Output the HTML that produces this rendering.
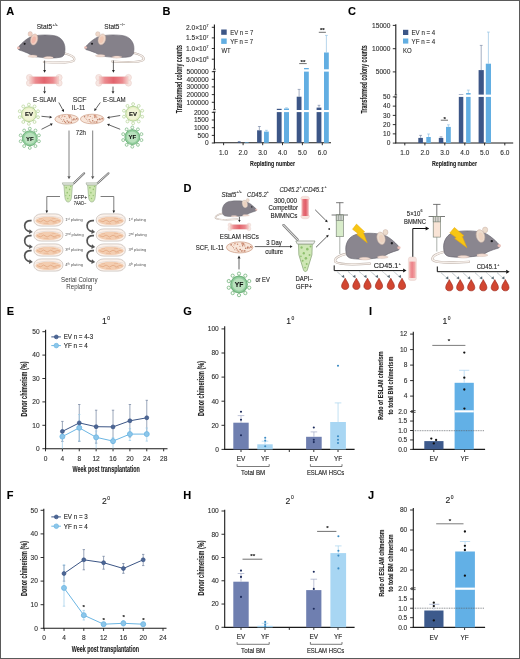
<!DOCTYPE html>
<html><head><meta charset="utf-8"><title>Figure</title>
<style>html,body{margin:0;padding:0;background:#fff;}svg{display:block;will-change:transform;}svg text{stroke:rgba(20,20,20,0.45);stroke-width:0.22px;}svg text.lt{stroke:none;}</style>
</head><body>
<svg width="520" height="659" viewBox="0 0 520 659" font-family="Liberation Sans" style="font-family:'Liberation Sans',sans-serif">
<rect x="0.00" y="0.00" width="520.00" height="659.00" fill="#fff" />

<defs>
 <linearGradient id="gShaft" x1="0" y1="0" x2="1" y2="0">
  <stop offset="0" stop-color="#f6d0cc"/><stop offset="0.2" stop-color="#eb8a8f"/>
  <stop offset="0.5" stop-color="#e2646d"/><stop offset="0.8" stop-color="#eb8a8f"/>
  <stop offset="1" stop-color="#f6d0cc"/>
 </linearGradient>
 <linearGradient id="gShaftV" x1="0" y1="0" x2="0" y2="1">
  <stop offset="0" stop-color="#f6d0cc"/><stop offset="0.2" stop-color="#eb8a8f"/>
  <stop offset="0.5" stop-color="#e2646d"/><stop offset="0.8" stop-color="#eb8a8f"/>
  <stop offset="1" stop-color="#f6d0cc"/>
 </linearGradient>
 <linearGradient id="gShaftH2" x1="0" y1="0" x2="1" y2="0">
  <stop offset="0" stop-color="#f3c4c2"/><stop offset="0.3" stop-color="#e56f78"/>
  <stop offset="0.6" stop-color="#e25e69"/><stop offset="1" stop-color="#f1bcbc"/>
 </linearGradient>
 <linearGradient id="gShaftH3" x1="0" y1="0" x2="1" y2="0">
  <stop offset="0" stop-color="#f4b4b2"/><stop offset="0.45" stop-color="#ec8087"/>
  <stop offset="1" stop-color="#f3b0ae"/>
 </linearGradient>
 <g id="boneH">
  <circle cx="3.2" cy="3.2" r="3.1" fill="#f7e6e2" stroke="#e6cbc4" stroke-width="0.5"/>
  <circle cx="3.2" cy="8.8" r="3.1" fill="#f7e6e2" stroke="#e6cbc4" stroke-width="0.5"/>
  <circle cx="32.8" cy="3.2" r="3.1" fill="#f7e6e2" stroke="#e6cbc4" stroke-width="0.5"/>
  <circle cx="32.8" cy="8.8" r="3.1" fill="#f7e6e2" stroke="#e6cbc4" stroke-width="0.5"/>
  <rect x="3.5" y="2.4" width="29" height="7.2" fill="url(#gShaft)"/>
  <rect x="3.5" y="2.4" width="29" height="7.2" fill="none" stroke="#e9c3bd" stroke-width="0.4"/>
 </g>
 <g id="mouse">
  <path d="M4 42 C-8 45 -20 50 -16 57 C-10 62 15 62 46 60" fill="none" stroke="#b9aca4" stroke-width="4.2" stroke-linecap="round"/>
  <path d="M4 42 C-8 45 -20 50 -16 57 C-10 62 15 62 46 60" fill="none" stroke="#f6efea" stroke-width="2.6" stroke-linecap="round"/>
  <path d="M3 40 C0 24 8 8 26 6 C44 3.5 62 5 73 9 C80 11 92 22 97 28 C100 31 100 34 97 35.5 C92 37 86 39 79 42 C73 46 66 49 58 50 C42 52 22 53 10 50 C5 48 3 44 3 40 Z" fill="currentColor" stroke="#5e5c66" stroke-width="1.1"/>
  <ellipse cx="74" cy="3" rx="4.5" ry="5" fill="var(--ear)" stroke="#c7aea2" stroke-width="0.8"/>
  <ellipse cx="66" cy="14" rx="7.2" ry="11.5" transform="rotate(-14 66 14)" fill="var(--ear)" stroke="#c7aea2" stroke-width="0.9"/>
  <ellipse cx="66.5" cy="15" rx="4.2" ry="7.2" transform="rotate(-14 66 14)" fill="var(--ear2)"/>
  <circle cx="85.5" cy="23" r="2.1" fill="#1e1e22"/>
  <ellipse cx="98.3" cy="31.2" rx="3" ry="2.6" fill="#ecc0b8"/>
  <path d="M60 47 C65 45 74 45 79 48 C77 51 66 51 60 50 Z" fill="#f2dcd2" stroke="#c9aea3" stroke-width="0.6"/>
  <path d="M27 50 C32 48 42 48 47 51 C44 54 32 54 27 52 Z" fill="#f2dcd2" stroke="#c9aea3" stroke-width="0.6"/>
 </g>
 <g id="virus">
  <circle cx="0" cy="0" r="7.4" fill="var(--bd)" stroke="var(--sp)" stroke-width="1.0"/>
  <g stroke="var(--sp)" stroke-width="0.7" fill="#fdfdf8">
   <line x1="0.00" y1="-7.20" x2="0.00" y2="-8.40"/><circle cx="0.00" cy="-9.60" r="1.45"/>
   <line x1="4.23" y1="-5.82" x2="4.94" y2="-6.80"/><circle cx="5.64" cy="-7.77" r="1.45"/>
   <line x1="6.85" y1="-2.22" x2="7.99" y2="-2.60"/><circle cx="9.13" cy="-2.97" r="1.45"/>
   <line x1="6.85" y1="2.22" x2="7.99" y2="2.60"/><circle cx="9.13" cy="2.97" r="1.45"/>
   <line x1="4.23" y1="5.82" x2="4.94" y2="6.80"/><circle cx="5.64" cy="7.77" r="1.45"/>
   <line x1="0.00" y1="7.20" x2="0.00" y2="8.40"/><circle cx="0.00" cy="9.60" r="1.45"/>
   <line x1="-4.23" y1="5.82" x2="-4.94" y2="6.80"/><circle cx="-5.64" cy="7.77" r="1.45"/>
   <line x1="-6.85" y1="2.22" x2="-7.99" y2="2.60"/><circle cx="-9.13" cy="2.97" r="1.45"/>
   <line x1="-6.85" y1="-2.22" x2="-7.99" y2="-2.60"/><circle cx="-9.13" cy="-2.97" r="1.45"/>
   <line x1="-4.23" y1="-5.82" x2="-4.94" y2="-6.80"/><circle cx="-5.64" cy="-7.77" r="1.45"/>
  </g>
  <circle cx="0" cy="0" r="5.6" fill="var(--bi)"/>
 </g>
 <g id="dishA">
  <ellipse cx="12" cy="5" rx="11.8" ry="4.8" fill="#f8e6da" stroke="#cf9f88" stroke-width="0.7"/>
  <g>
   <circle cx="6.5" cy="5.3" r="0.46" fill="#b97860"/>
   <circle cx="9.3" cy="5.8" r="0.54" fill="#d8a088"/>
   <circle cx="14.6" cy="1.7" r="0.72" fill="#e2b09a"/>
   <circle cx="6.9" cy="3.0" r="0.56" fill="#e2b09a"/>
   <circle cx="22.4" cy="4.8" r="0.64" fill="#c98a70"/>
   <circle cx="19.1" cy="4.8" r="0.64" fill="#b97860"/>
   <circle cx="14.9" cy="2.3" r="0.58" fill="#d8a088"/>
   <circle cx="14.8" cy="7.8" r="0.73" fill="#e2b09a"/>
   <circle cx="12.5" cy="6.8" r="0.74" fill="#b97860"/>
   <circle cx="15.6" cy="1.7" r="0.61" fill="#c98a70"/>
   <circle cx="17.4" cy="5.7" r="0.69" fill="#b97860"/>
   <circle cx="7.8" cy="1.4" r="0.46" fill="#d8a088"/>
   <circle cx="19.7" cy="4.8" r="0.47" fill="#b97860"/>
   <circle cx="16.6" cy="7.9" r="0.59" fill="#b97860"/>
   <circle cx="16.5" cy="8.2" r="0.63" fill="#b97860"/>
   <circle cx="9.8" cy="7.3" r="0.67" fill="#c98a70"/>
   <circle cx="10.8" cy="8.3" r="0.63" fill="#c98a70"/>
   <circle cx="4.4" cy="2.8" r="0.74" fill="#b97860"/>
   <circle cx="21.8" cy="4.5" r="0.64" fill="#b97860"/>
   <circle cx="14.7" cy="3.5" r="0.63" fill="#b97860"/>
   <circle cx="12.2" cy="4.1" r="0.50" fill="#d8a088"/>
   <circle cx="8.9" cy="5.6" r="0.54" fill="#b97860"/>
   <circle cx="13.8" cy="8.1" r="0.70" fill="#b97860"/>
   <circle cx="15.8" cy="8.3" r="0.54" fill="#e2b09a"/>
   <circle cx="15.6" cy="2.4" r="0.48" fill="#c98a70"/>
   <circle cx="20.5" cy="5.5" r="0.74" fill="#d8a088"/>
   <circle cx="16.5" cy="2.8" r="0.54" fill="#d8a088"/>
   <circle cx="19.0" cy="5.6" r="0.65" fill="#b97860"/>
   <circle cx="7.5" cy="1.7" r="0.52" fill="#d8a088"/>
   <circle cx="10.1" cy="2.3" r="0.65" fill="#c98a70"/>
   <circle cx="7.7" cy="7.0" r="0.48" fill="#b97860"/>
   <circle cx="14.4" cy="1.5" r="0.73" fill="#d8a088"/>
   <circle cx="16.6" cy="3.7" r="0.58" fill="#d8a088"/>
   <circle cx="12.1" cy="8.8" r="0.47" fill="#d8a088"/>
   <circle cx="8.0" cy="1.8" r="0.72" fill="#e2b09a"/>
   <circle cx="14.1" cy="1.4" r="0.53" fill="#c98a70"/>
   <circle cx="5.6" cy="4.3" r="0.46" fill="#d8a088"/>
   <circle cx="14.3" cy="2.4" r="0.54" fill="#d8a088"/>
  </g>
 </g>
 <g id="dishC">
  <rect x="0.3" y="0.3" width="29" height="12.2" rx="7.5" ry="5.6" fill="#fbf1ea" stroke="#b9aea8" stroke-width="0.6"/>
  <ellipse cx="14.8" cy="7.2" rx="12.9" ry="4.1" fill="#f3cdb0"/>
  <path d="M3.5 7.0 L7 8.2 L10 6.4 L13.5 8.4 L17 6.6 L20.5 8.2 L24 6.8 L26.5 7.6" fill="none" stroke="#dd9a70" stroke-width="0.6"/>
  <path d="M5.5 5.4 L9 5.0 M18 5.2 L22 4.8 M10 9.6 L15 9.9 M19 9.4 L23 9.0" fill="none" stroke="#e3a985" stroke-width="0.5"/>
  <path d="M2 4.6 Q14.8 0.6 27.6 4.6" fill="none" stroke="#d9cdc7" stroke-width="0.5"/>
 </g>
 <g id="drop">
  <path d="M0 0 C1 2.5 3.7 5.3 3.7 8.1 C3.7 10.4 2.1 11.6 0 11.6 C-2.1 11.6 -3.7 10.4 -3.7 8.1 C-3.7 5.3 -1 2.5 0 0 Z" fill="#d24631" stroke="#9b2b20" stroke-width="0.65"/>
 </g>
 <g id="tube">
  <path d="M1.5 2 L10.5 2 L10 6 L7 17 C6.5 18.6 5.5 18.6 5 17 L2 6 Z" fill="#cfe6b4" stroke="#8aa57a" stroke-width="0.5"/>
  <rect x="0" y="0.5" width="12" height="2" fill="#e6ebe2" stroke="#8f9a8a" stroke-width="0.5"/>
  <g fill="#8fc06a"><circle cx="4" cy="5" r="0.8"/><circle cx="7.5" cy="7" r="0.8"/><circle cx="5" cy="10" r="0.8"/>
   <circle cx="7" cy="12.5" r="0.7"/><circle cx="8.5" cy="4" r="0.7"/><circle cx="5.8" cy="14.5" r="0.6"/></g>
 </g>
 <g id="tubeA">
  <path d="M1.6 2.2 L10.4 2.2 L9.4 13.5 C8.9 19.6 3.1 19.6 2.6 13.5 Z" fill="#cde6b0" stroke="#8fa882" stroke-width="0.55"/>
  <path d="M0 0.6 L12 0.6 L11.2 2.6 L0.8 2.6 Z" fill="#e4e9e0" stroke="#8f9a8a" stroke-width="0.5"/>
  <g fill="#96c474"><circle cx="4" cy="5" r="0.8"/><circle cx="7.5" cy="6.5" r="0.8"/><circle cx="5" cy="9.5" r="0.8"/>
   <circle cx="7.4" cy="12" r="0.7"/><circle cx="8.6" cy="4" r="0.7"/><circle cx="5.6" cy="14.8" r="0.7"/><circle cx="3.6" cy="12.2" r="0.6"/></g>
 </g>
 <g id="tubeD">
  <path d="M1.7 2.1 L10.3 2.1 L10.1 8.5 L7.2 17.4 C6.7 18.7 5.3 18.7 4.8 17.4 L1.9 8.5 Z" fill="#cfe7b6" stroke="#8aa57a" stroke-width="0.45"/>
  <path d="M0 0.4 L12 0.4 L11.1 2.2 L0.9 2.2 Z" fill="#eef0ec" stroke="#8f9a8a" stroke-width="0.45"/>
  <g fill="#8fc06e"><circle cx="3.6" cy="4.2" r="0.7"/><circle cx="7.2" cy="5.2" r="0.8"/><circle cx="5" cy="7.6" r="0.7"/>
   <circle cx="8.6" cy="8.6" r="0.6"/><circle cx="6.3" cy="10.6" r="0.8"/><circle cx="4.3" cy="12" r="0.6"/><circle cx="6.8" cy="14" r="0.6"/>
   <circle cx="9.2" cy="3.6" r="0.6"/><circle cx="3.2" cy="9.4" r="0.5"/><circle cx="5.8" cy="16" r="0.5"/></g>
 </g>
 <g id="bolt">
  <path d="M4 0 L0 5.2 L5.5 9.5 L4.2 10.4 L14.8 19 L10.8 8.6 L12.2 7.8 L8.4 4.2 Z" fill="#f7c614" stroke="#e9a90a" stroke-width="0.5"/>
 </g>
</defs>

<text x="6.30" y="14.60" font-size="11" font-weight="bold" fill="#000">A</text>
<text x="36.7" y="29.2" font-size="7.0" fill="#2a2a2a" textLength="15.5" lengthAdjust="spacingAndGlyphs">Stat5</text>
<text x="52.6" y="25.6" font-size="3.6" fill="#333">+/+</text>
<text x="104.3" y="29.2" font-size="7.0" fill="#2a2a2a" textLength="15.2" lengthAdjust="spacingAndGlyphs">Stat5</text>
<text x="119.8" y="25.6" font-size="3.6" fill="#333">−/−</text>
<use href="#mouse" transform="translate(66.2,32.6) scale(-0.486,0.49)" style="color:#7a7780;--ear:#f1cfc2;--ear2:#f2b8aa"/>
<use href="#mouse" transform="translate(135.2,32.6) scale(-0.505,0.48)" style="color:#85818a;--ear:#efd7c8;--ear2:#f0c8b4"/>
<line x1="44.60" y1="60.50" x2="44.60" y2="70.10" stroke="#222" stroke-width="0.7" />
<path d="M44.60 72.70 L43.20 70.10 L46.00 70.10 Z" fill="#222"/>
<line x1="113.40" y1="60.50" x2="113.40" y2="70.10" stroke="#222" stroke-width="0.7" />
<path d="M113.40 72.70 L112.00 70.10 L114.80 70.10 Z" fill="#222"/>
<use href="#boneH" transform="translate(26.3,74.3)"/>
<use href="#boneH" transform="translate(95.6,74.3)"/>
<line x1="44.60" y1="86.60" x2="44.60" y2="91.20" stroke="#222" stroke-width="0.7" />
<path d="M44.60 93.80 L43.20 91.20 L46.00 91.20 Z" fill="#222"/>
<line x1="113.00" y1="86.60" x2="113.00" y2="91.20" stroke="#222" stroke-width="0.7" />
<path d="M113.00 93.80 L111.60 91.20 L114.40 91.20 Z" fill="#222"/>
<text x="44.60" y="101.92" font-size="7.0" fill="#333" text-anchor="middle" textLength="23.3" lengthAdjust="spacingAndGlyphs" >E-SLAM</text>
<text x="114.30" y="101.92" font-size="7.0" fill="#333" text-anchor="middle" textLength="22.8" lengthAdjust="spacingAndGlyphs" >E-SLAM</text>
<text x="79.60" y="102.02" font-size="7.0" fill="#333" text-anchor="middle" textLength="13.8" lengthAdjust="spacingAndGlyphs" >SCF</text>
<text x="78.50" y="109.72" font-size="7.0" fill="#333" text-anchor="middle" textLength="13.5" lengthAdjust="spacingAndGlyphs" >IL-11</text>
<line x1="58.80" y1="102.50" x2="62.75" y2="109.72" stroke="#222" stroke-width="0.7" />
<path d="M64.00 112.00 L61.52 110.39 L63.98 109.05 Z" fill="#222"/>
<line x1="100.30" y1="102.50" x2="95.70" y2="108.98" stroke="#222" stroke-width="0.7" />
<path d="M94.20 111.10 L94.56 108.17 L96.85 109.79 Z" fill="#222"/>
<use href="#dishA" transform="translate(54.7,114.2)"/>
<use href="#dishA" transform="translate(80.2,114.0)"/>
<use href="#virus" transform="translate(28.9,114.2) scale(1.0)" style="--sp:#b5d49a;--bd:#e8f0c6;--bi:#f1f5d6"/>
<text x="28.90" y="116.40" font-size="6.00" font-weight="bold" fill="#111" text-anchor="middle">EV</text>
<use href="#virus" transform="translate(29.8,138.3) scale(1.0)" style="--sp:#72b47e;--bd:#93cf9e;--bi:#b9e1bd"/>
<text x="29.80" y="140.50" font-size="6.00" font-weight="bold" fill="#111" text-anchor="middle">YF</text>
<use href="#virus" transform="translate(133.1,113.7) scale(1.0)" style="--sp:#b5d49a;--bd:#e8f0c6;--bi:#f1f5d6"/>
<text x="133.10" y="115.90" font-size="6.00" font-weight="bold" fill="#111" text-anchor="middle">EV</text>
<use href="#virus" transform="translate(132.3,137.1) scale(1.0)" style="--sp:#72b47e;--bd:#93cf9e;--bi:#b9e1bd"/>
<text x="132.30" y="139.30" font-size="6.00" font-weight="bold" fill="#111" text-anchor="middle">YF</text>
<line x1="41.50" y1="116.30" x2="49.61" y2="117.06" stroke="#222" stroke-width="0.7" />
<path d="M52.20 117.30 L49.48 118.45 L49.74 115.66 Z" fill="#222"/>
<line x1="41.50" y1="129.30" x2="50.48" y2="124.77" stroke="#222" stroke-width="0.7" />
<path d="M52.80 123.60 L51.11 126.02 L49.85 123.52 Z" fill="#222"/>
<line x1="120.20" y1="115.50" x2="109.56" y2="117.27" stroke="#222" stroke-width="0.7" />
<path d="M107.00 117.70 L109.33 115.89 L109.79 118.65 Z" fill="#222"/>
<line x1="120.20" y1="129.30" x2="109.42" y2="125.05" stroke="#222" stroke-width="0.7" />
<path d="M107.00 124.10 L109.93 123.75 L108.91 126.36 Z" fill="#222"/>
<text x="80.90" y="135.28" font-size="6.6" fill="#333" text-anchor="middle" textLength="10.3" lengthAdjust="spacingAndGlyphs" >72h</text>
<line x1="69.00" y1="130.50" x2="69.00" y2="176.20" stroke="#555" stroke-width="0.75" />
<path d="M69.00 179.20 L67.40 176.20 L70.60 176.20 Z" fill="#555"/>
<line x1="92.70" y1="130.50" x2="92.70" y2="176.20" stroke="#555" stroke-width="0.75" />
<path d="M92.70 179.20 L91.10 176.20 L94.30 176.20 Z" fill="#555"/>
<line x1="73.80" y1="183.2" x2="84.20" y2="173.2" stroke="#6c6c6c" stroke-width="2.0" stroke-linecap="round"/>
<line x1="73.80" y1="183.2" x2="84.20" y2="173.2" stroke="#d9d9d9" stroke-width="1.0" stroke-linecap="round"/>
<use href="#tubeA" transform="translate(62.3,182.2) scale(0.98,1.1)"/>
<line x1="97.50" y1="183.2" x2="108.50" y2="173.2" stroke="#6c6c6c" stroke-width="2.0" stroke-linecap="round"/>
<line x1="97.50" y1="183.2" x2="108.50" y2="173.2" stroke="#d9d9d9" stroke-width="1.0" stroke-linecap="round"/>
<use href="#tubeA" transform="translate(86.0,182.2) scale(0.98,1.1)"/>
<text x="80.50" y="198.72" font-size="5.6" fill="#333" text-anchor="middle" textLength="13.4" lengthAdjust="spacingAndGlyphs" >GFP+</text>
<text x="80.00" y="205.22" font-size="5.6" fill="#333" text-anchor="middle" textLength="12.5" lengthAdjust="spacingAndGlyphs" >7AAD−</text>
<polyline points="60,196.5 46.8,196.5 46.8,211.0" fill="none" stroke="#444" stroke-width="0.7"/>
<path d="M46.8 213.3 L45.5 210.5 L48.1 210.5 Z" fill="#222"/>
<polyline points="100.6,196.5 113.8,196.5 113.8,211.0" fill="none" stroke="#444" stroke-width="0.7"/>
<path d="M113.8 213.3 L112.5 210.5 L115.1 210.5 Z" fill="#222"/>
<use href="#dishC" transform="translate(33.6,213.60)"/>
<use href="#dishC" transform="translate(96.0,213.60)"/>
<text class="lt" x="65.3" y="221.00" font-size="4.1" fill="#555">1<tspan font-size="2.6" dy="-1.5">st</tspan><tspan dy="1.5"> plating</tspan></text>
<text class="lt" x="128.4" y="221.00" font-size="4.1" fill="#555">1<tspan font-size="2.6" dy="-1.5">st</tspan><tspan dy="1.5"> plating</tspan></text>
<path d="M31.60 220.60 C22.60 219.60 22.60 230.60 30.40 231.80" fill="none" stroke="#555" stroke-width="1.75"/>
<path d="M32.80 232.00 L29.60 229.20 L29.00 234.00 Z" fill="#555"/>
<path d="M94.00 220.60 C85.00 219.60 85.00 230.60 92.80 231.80" fill="none" stroke="#555" stroke-width="1.75"/>
<path d="M95.20 232.00 L92.00 229.20 L91.40 234.00 Z" fill="#555"/>
<use href="#dishC" transform="translate(33.6,228.60)"/>
<use href="#dishC" transform="translate(96.0,228.60)"/>
<text class="lt" x="65.3" y="236.00" font-size="4.1" fill="#555">2<tspan font-size="2.6" dy="-1.5">nd</tspan><tspan dy="1.5"> plating</tspan></text>
<text class="lt" x="128.4" y="236.00" font-size="4.1" fill="#555">2<tspan font-size="2.6" dy="-1.5">nd</tspan><tspan dy="1.5"> plating</tspan></text>
<path d="M31.60 235.60 C22.60 234.60 22.60 245.60 30.40 246.80" fill="none" stroke="#555" stroke-width="1.75"/>
<path d="M32.80 247.00 L29.60 244.20 L29.00 249.00 Z" fill="#555"/>
<path d="M94.00 235.60 C85.00 234.60 85.00 245.60 92.80 246.80" fill="none" stroke="#555" stroke-width="1.75"/>
<path d="M95.20 247.00 L92.00 244.20 L91.40 249.00 Z" fill="#555"/>
<use href="#dishC" transform="translate(33.6,243.60)"/>
<use href="#dishC" transform="translate(96.0,243.60)"/>
<text class="lt" x="65.3" y="251.00" font-size="4.1" fill="#555">3<tspan font-size="2.6" dy="-1.5">rd</tspan><tspan dy="1.5"> plating</tspan></text>
<text class="lt" x="128.4" y="251.00" font-size="4.1" fill="#555">3<tspan font-size="2.6" dy="-1.5">rd</tspan><tspan dy="1.5"> plating</tspan></text>
<path d="M31.60 250.60 C22.60 249.60 22.60 260.60 30.40 261.80" fill="none" stroke="#555" stroke-width="1.75"/>
<path d="M32.80 262.00 L29.60 259.20 L29.00 264.00 Z" fill="#555"/>
<path d="M94.00 250.60 C85.00 249.60 85.00 260.60 92.80 261.80" fill="none" stroke="#555" stroke-width="1.75"/>
<path d="M95.20 262.00 L92.00 259.20 L91.40 264.00 Z" fill="#555"/>
<use href="#dishC" transform="translate(33.6,258.60)"/>
<use href="#dishC" transform="translate(96.0,258.60)"/>
<text class="lt" x="65.3" y="266.00" font-size="4.1" fill="#555">4<tspan font-size="2.6" dy="-1.5">th</tspan><tspan dy="1.5"> plating</tspan></text>
<text class="lt" x="128.4" y="266.00" font-size="4.1" fill="#555">4<tspan font-size="2.6" dy="-1.5">th</tspan><tspan dy="1.5"> plating</tspan></text>
<text x="79.30" y="281.78" font-size="6.9" fill="#3a3a3a" text-anchor="middle" textLength="36.5" lengthAdjust="spacingAndGlyphs" class="lt">Serial Colony</text>
<text x="79.30" y="288.88" font-size="6.9" fill="#3a3a3a" text-anchor="middle" textLength="26.0" lengthAdjust="spacingAndGlyphs" class="lt">Replating</text>
<text x="183.40" y="191.70" font-size="11" font-weight="bold" fill="#000">D</text>
<text x="221.6" y="196.8" font-size="6.4" font-style="italic" fill="#2a2a2a" textLength="14.6" lengthAdjust="spacingAndGlyphs">Stat5</text>
<text x="236.6" y="193.4" font-size="3.6" font-style="italic" fill="#333">+/+</text>
<text x="247.0" y="196.8" font-size="6.4" font-style="italic" fill="#2a2a2a" textLength="19.6" lengthAdjust="spacingAndGlyphs">CD45.2</text>
<text x="266.8" y="193.4" font-size="3.6" font-style="italic" fill="#333">+</text>
<use href="#mouse" transform="translate(221.4,199.2) scale(0.355,0.335)" style="color:#837f88;--ear:#ecdccd;--ear2:#ecd2c0"/>
<line x1="239.40" y1="216.80" x2="239.40" y2="220.10" stroke="#222" stroke-width="0.7" />
<path d="M239.40 222.30 L238.20 220.10 L240.60 220.10 Z" fill="#222"/>
<use href="#boneH" transform="translate(227.9,223.0) scale(0.64,0.65)"/>
<text x="239.30" y="239.48" font-size="6.6" fill="#222" text-anchor="middle" textLength="38.9" lengthAdjust="spacingAndGlyphs" >ESLAM HSCs</text>
<text x="224.00" y="250.18" font-size="6.6" fill="#222" text-anchor="end" textLength="28.2" lengthAdjust="spacingAndGlyphs" >SCF, IL-11</text>
<use href="#dishA" transform="translate(226.2,241.6) scale(1.12,1.16)"/>
<line x1="239.00" y1="269.40" x2="239.00" y2="258.40" stroke="#222" stroke-width="0.7" />
<path d="M239.00 255.60 L240.50 258.40 L237.50 258.40 Z" fill="#222"/>
<use href="#virus" transform="translate(239.0,284.4) scale(1.12)" style="--sp:#72b47e;--bd:#93cf9e;--bi:#b9e1bd"/>
<text x="239.00" y="286.86" font-size="6.72" font-weight="bold" fill="#111" text-anchor="middle">YF</text>
<text x="255.40" y="282.00" font-size="6.4" fill="#222" textLength="14.4" lengthAdjust="spacingAndGlyphs" >or EV</text>
<text x="274.00" y="244.78" font-size="6.6" fill="#222" text-anchor="middle" textLength="15.4" lengthAdjust="spacingAndGlyphs" >3 Day</text>
<line x1="254.80" y1="246.60" x2="290.00" y2="246.60" stroke="#222" stroke-width="0.7" />
<path d="M292.60 246.60 L290.00 248.00 L290.00 245.20 Z" fill="#222"/>
<text x="274.20" y="253.75" font-size="6.8" fill="#222" text-anchor="middle" textLength="18.0" lengthAdjust="spacingAndGlyphs" >culture</text>
<text x="279.4" y="191.8" font-size="6.4" font-style="italic" fill="#2a2a2a" textLength="19.8" lengthAdjust="spacingAndGlyphs">CD45.2</text>
<text x="299.4" y="188.4" font-size="3.6" font-style="italic" fill="#333">+</text>
<text x="302.2" y="191.8" font-size="6.4" font-style="italic" fill="#2a2a2a" textLength="22.0" lengthAdjust="spacingAndGlyphs">/CD45.1</text>
<text x="324.6" y="188.4" font-size="3.6" font-style="italic" fill="#333">+</text>
<text x="285.50" y="202.65" font-size="6.8" fill="#222" text-anchor="middle" textLength="23.0" lengthAdjust="spacingAndGlyphs" >300,000</text>
<text x="283.20" y="210.45" font-size="6.8" fill="#222" text-anchor="middle" textLength="29.5" lengthAdjust="spacingAndGlyphs" >Competitor</text>
<text x="284.00" y="218.25" font-size="6.8" fill="#222" text-anchor="middle" textLength="27.0" lengthAdjust="spacingAndGlyphs" >BMMNCs</text>
<ellipse cx="305.1" cy="198.6" rx="4.3" ry="2.4" fill="#f7e2dd" stroke="#e6c6bf" stroke-width="0.4"/>
<ellipse cx="305.1" cy="216.4" rx="4.3" ry="2.4" fill="#f7e2dd" stroke="#e6c6bf" stroke-width="0.4"/>
<rect x="301.4" y="199.0" width="7.4" height="17.0" fill="url(#gShaftH2)"/>
<line x1="315.20" y1="209.80" x2="325.86" y2="220.46" stroke="#222" stroke-width="0.7" />
<path d="M327.70 222.30 L324.87 221.45 L326.85 219.47 Z" fill="#222"/>
<circle cx="329.20" cy="229.00" r="0.90" fill="#333" />
<line x1="316.00" y1="247.30" x2="326.85" y2="236.62" stroke="#222" stroke-width="0.7" />
<path d="M328.70 234.80 L327.83 237.62 L325.86 235.63 Z" fill="#222"/>
<line x1="283.5" y1="225.2" x2="297.5" y2="239.6" stroke="#6c6c6c" stroke-width="2.4" stroke-linecap="round"/>
<line x1="283.5" y1="225.2" x2="297.5" y2="239.6" stroke="#dcdcdc" stroke-width="1.2" stroke-linecap="round"/>
<use href="#tubeD" transform="translate(295.8,240.3) scale(1.6,1.7)"/>
<text x="304.10" y="281.45" font-size="6.8" fill="#222" text-anchor="middle" textLength="17.3" lengthAdjust="spacingAndGlyphs" >DAPI–</text>
<text x="304.00" y="288.65" font-size="6.8" fill="#222" text-anchor="middle" textLength="16.4" lengthAdjust="spacingAndGlyphs" >GFP+</text>
<line x1="336.10" y1="202.70" x2="343.50" y2="202.70" stroke="#555" stroke-width="0.8" />
<line x1="339.80" y1="202.70" x2="339.80" y2="215.00" stroke="#555" stroke-width="0.8" />
<line x1="331.60" y1="215.00" x2="348.00" y2="215.00" stroke="#555" stroke-width="0.8" />
<rect x="336.20" y="215.00" width="7.20" height="21.70" fill="#d8ecca" stroke="#6f7a6c" stroke-width="0.6"/>
<rect x="336.20" y="215.00" width="7.20" height="5.40" fill="#d0d4cf" stroke="#6f7a6c" stroke-width="0.6"/>
<line x1="338.60" y1="215.00" x2="338.60" y2="220.40" stroke="#6f7a6c" stroke-width="0.5" />
<line x1="341.00" y1="215.00" x2="341.00" y2="220.40" stroke="#6f7a6c" stroke-width="0.5" />
<line x1="339.80" y1="236.70" x2="339.80" y2="254.00" stroke="#8a8f8a" stroke-width="0.7" />
<use href="#mouse" transform="translate(344.4,230.6) scale(0.555,0.55)" style="color:#8a868f;--ear:#ecdccd;--ear2:#ecd2c0"/>
<use href="#bolt" transform="translate(352.5,224.1) scale(1.0,0.99)"/>
<line x1="334.20" y1="265.40" x2="334.20" y2="270.60" stroke="#111" stroke-width="1.0" />
<line x1="334.20" y1="270.60" x2="403.10" y2="270.60" stroke="#111" stroke-width="1.0" />
<path d="M406.50 270.60 L403.10 272.60 L403.10 268.60 Z" fill="#111"/>
<line x1="336.90" y1="271.60" x2="343.00" y2="276.80" stroke="#5d6d78" stroke-width="0.6" stroke-dasharray="0.9,0.7"/>
<path d="M344.40 278.00 L341.40 276.80 L344.00 274.80 Z" fill="#5a6a74"/>
<use href="#drop" transform="translate(345.20,278.20) scale(0.98,0.97)"/>
<line x1="348.10" y1="271.60" x2="354.20" y2="276.80" stroke="#5d6d78" stroke-width="0.6" stroke-dasharray="0.9,0.7"/>
<path d="M355.60 278.00 L352.60 276.80 L355.20 274.80 Z" fill="#5a6a74"/>
<use href="#drop" transform="translate(356.40,278.20) scale(0.98,0.97)"/>
<line x1="359.20" y1="271.60" x2="365.30" y2="276.80" stroke="#5d6d78" stroke-width="0.6" stroke-dasharray="0.9,0.7"/>
<path d="M366.70 278.00 L363.70 276.80 L366.30 274.80 Z" fill="#5a6a74"/>
<use href="#drop" transform="translate(367.50,278.20) scale(0.98,0.97)"/>
<line x1="370.70" y1="271.60" x2="376.80" y2="276.80" stroke="#5d6d78" stroke-width="0.6" stroke-dasharray="0.9,0.7"/>
<path d="M378.20 278.00 L375.20 276.80 L377.80 274.80 Z" fill="#5a6a74"/>
<use href="#drop" transform="translate(379.00,278.20) scale(0.98,0.97)"/>
<line x1="382.50" y1="271.60" x2="388.60" y2="276.80" stroke="#5d6d78" stroke-width="0.6" stroke-dasharray="0.9,0.7"/>
<path d="M390.00 278.00 L387.00 276.80 L389.60 274.80 Z" fill="#5a6a74"/>
<use href="#drop" transform="translate(390.80,278.20) scale(0.98,0.97)"/>
<line x1="393.70" y1="271.60" x2="399.80" y2="276.80" stroke="#5d6d78" stroke-width="0.6" stroke-dasharray="0.9,0.7"/>
<path d="M401.20 278.00 L398.20 276.80 L400.80 274.80 Z" fill="#5a6a74"/>
<use href="#drop" transform="translate(402.00,278.20) scale(0.98,0.97)"/>
<text x="373.8" y="268.2" font-size="6.6" fill="#222" textLength="24.5" lengthAdjust="spacingAndGlyphs">CD45.1</text>
<text x="398.7" y="264.9" font-size="3.6" fill="#222">+</text>
<rect x="408.4" y="257.0" width="8.0" height="23.4" rx="2.2" fill="#f7e3df" stroke="#e4c9c3" stroke-width="0.45"/>
<rect x="409.2" y="261.6" width="6.4" height="16.4" fill="url(#gShaftH3)"/>
<polyline points="412.8,256.8 412.8,228.5 426.0,228.5" fill="none" stroke="#111" stroke-width="1.0"/>
<path d="M429.2 228.5 L425.6 226.5 L425.6 230.5 Z" fill="#111"/>
<text x="406.8" y="216.0" font-size="6.4" fill="#222" textLength="13.5" lengthAdjust="spacingAndGlyphs">5×10</text>
<text x="420.6" y="212.2" font-size="3.6" fill="#222">6</text>
<text x="415.00" y="223.90" font-size="6.4" fill="#222" text-anchor="middle" textLength="22.0" lengthAdjust="spacingAndGlyphs" >BMMNC</text>
<line x1="433.10" y1="204.40" x2="440.50" y2="204.40" stroke="#555" stroke-width="0.8" />
<line x1="436.80" y1="204.40" x2="436.80" y2="216.50" stroke="#555" stroke-width="0.8" />
<line x1="428.60" y1="216.50" x2="445.00" y2="216.50" stroke="#555" stroke-width="0.8" />
<rect x="433.20" y="216.50" width="7.20" height="20.60" fill="#f9e4d6" stroke="#6f7a6c" stroke-width="0.6"/>
<rect x="433.20" y="216.50" width="7.20" height="5.40" fill="#d8d4d0" stroke="#6f7a6c" stroke-width="0.6"/>
<line x1="435.60" y1="216.50" x2="435.60" y2="221.90" stroke="#6f7a6c" stroke-width="0.5" />
<line x1="438.00" y1="216.50" x2="438.00" y2="221.90" stroke="#6f7a6c" stroke-width="0.5" />
<line x1="436.80" y1="237.10" x2="436.80" y2="251.50" stroke="#8a8f8a" stroke-width="0.7" />
<use href="#mouse" transform="translate(442.2,228.2) scale(0.58,0.56)" style="color:#8a868f;--ear:#ecdccd;--ear2:#ecd2c0"/>
<use href="#bolt" transform="translate(449.8,227.5) scale(1.16,1.06)"/>
<line x1="437.30" y1="266.50" x2="437.30" y2="271.70" stroke="#111" stroke-width="1.0" />
<line x1="437.30" y1="271.70" x2="506.20" y2="271.70" stroke="#111" stroke-width="1.0" />
<path d="M509.60 271.70 L506.20 273.70 L506.20 269.70 Z" fill="#111"/>
<line x1="441.00" y1="272.70" x2="447.10" y2="278.20" stroke="#5d6d78" stroke-width="0.6" stroke-dasharray="0.9,0.7"/>
<path d="M448.50 279.40 L445.50 278.20 L448.10 276.20 Z" fill="#5a6a74"/>
<use href="#drop" transform="translate(449.30,279.60) scale(0.98,0.97)"/>
<line x1="451.90" y1="272.70" x2="458.00" y2="278.20" stroke="#5d6d78" stroke-width="0.6" stroke-dasharray="0.9,0.7"/>
<path d="M459.40 279.40 L456.40 278.20 L459.00 276.20 Z" fill="#5a6a74"/>
<use href="#drop" transform="translate(460.20,279.60) scale(0.98,0.97)"/>
<line x1="462.90" y1="272.70" x2="469.00" y2="278.20" stroke="#5d6d78" stroke-width="0.6" stroke-dasharray="0.9,0.7"/>
<path d="M470.40 279.40 L467.40 278.20 L470.00 276.20 Z" fill="#5a6a74"/>
<use href="#drop" transform="translate(471.20,279.60) scale(0.98,0.97)"/>
<line x1="475.00" y1="272.70" x2="481.10" y2="278.20" stroke="#5d6d78" stroke-width="0.6" stroke-dasharray="0.9,0.7"/>
<path d="M482.50 279.40 L479.50 278.20 L482.10 276.20 Z" fill="#5a6a74"/>
<use href="#drop" transform="translate(483.30,279.60) scale(0.98,0.97)"/>
<line x1="486.50" y1="272.70" x2="492.60" y2="278.20" stroke="#5d6d78" stroke-width="0.6" stroke-dasharray="0.9,0.7"/>
<path d="M494.00 279.40 L491.00 278.20 L493.60 276.20 Z" fill="#5a6a74"/>
<use href="#drop" transform="translate(494.80,279.60) scale(0.98,0.97)"/>
<line x1="497.10" y1="272.70" x2="503.20" y2="278.20" stroke="#5d6d78" stroke-width="0.6" stroke-dasharray="0.9,0.7"/>
<path d="M504.60 279.40 L501.60 278.20 L504.20 276.20 Z" fill="#5a6a74"/>
<use href="#drop" transform="translate(505.40,279.60) scale(0.98,0.97)"/>
<text x="476.7" y="269.0" font-size="6.6" fill="#222" textLength="20.3" lengthAdjust="spacingAndGlyphs">CD45.1</text>
<text x="497.3" y="265.6" font-size="3.6" fill="#222">+</text>
<text x="162.40" y="14.60" font-size="11" font-weight="bold" fill="#000">B</text>
<line x1="214.40" y1="24.60" x2="214.40" y2="69.30" stroke="#1a1a1a" stroke-width="1.1" />
<line x1="214.40" y1="71.30" x2="214.40" y2="109.70" stroke="#1a1a1a" stroke-width="1.1" />
<line x1="214.40" y1="112.10" x2="214.40" y2="143.20" stroke="#1a1a1a" stroke-width="1.1" />
<line x1="213.10" y1="69.30" x2="215.70" y2="69.30" stroke="#1a1a1a" stroke-width="0.8" />
<line x1="213.10" y1="71.30" x2="215.70" y2="71.30" stroke="#1a1a1a" stroke-width="0.8" />
<line x1="213.10" y1="109.70" x2="215.70" y2="109.70" stroke="#1a1a1a" stroke-width="0.8" />
<line x1="213.10" y1="112.10" x2="215.70" y2="112.10" stroke="#1a1a1a" stroke-width="0.8" />
<line x1="213.90" y1="142.80" x2="331.00" y2="142.80" stroke="#1a1a1a" stroke-width="1.1" />
<line x1="211.80" y1="27.30" x2="214.40" y2="27.30" stroke="#1a1a1a" stroke-width="0.9" />
<text x="206.5" y="29.60" font-size="6.5" fill="#333" text-anchor="end" textLength="20.6" lengthAdjust="spacingAndGlyphs">2.0×10</text>
<text x="206.6" y="26.90" font-size="3.6" fill="#333">7</text>
<line x1="211.80" y1="37.90" x2="214.40" y2="37.90" stroke="#1a1a1a" stroke-width="0.9" />
<text x="206.5" y="40.20" font-size="6.5" fill="#333" text-anchor="end" textLength="20.6" lengthAdjust="spacingAndGlyphs">1.5×10</text>
<text x="206.6" y="37.50" font-size="3.6" fill="#333">7</text>
<line x1="211.80" y1="48.50" x2="214.40" y2="48.50" stroke="#1a1a1a" stroke-width="0.9" />
<text x="206.5" y="50.80" font-size="6.5" fill="#333" text-anchor="end" textLength="20.6" lengthAdjust="spacingAndGlyphs">1.0×10</text>
<text x="206.6" y="48.10" font-size="3.6" fill="#333">7</text>
<line x1="211.80" y1="59.20" x2="214.40" y2="59.20" stroke="#1a1a1a" stroke-width="0.9" />
<text x="206.5" y="61.50" font-size="6.5" fill="#333" text-anchor="end" textLength="20.6" lengthAdjust="spacingAndGlyphs">5.0×10</text>
<text x="206.6" y="58.80" font-size="3.6" fill="#333">6</text>
<line x1="211.80" y1="71.70" x2="214.40" y2="71.70" stroke="#1a1a1a" stroke-width="0.9" />
<text x="208.6" y="74.05" font-size="6.6" fill="#333" text-anchor="end">500000</text>
<line x1="211.80" y1="79.30" x2="214.40" y2="79.30" stroke="#1a1a1a" stroke-width="0.9" />
<text x="208.6" y="81.65" font-size="6.6" fill="#333" text-anchor="end">400000</text>
<line x1="211.80" y1="86.90" x2="214.40" y2="86.90" stroke="#1a1a1a" stroke-width="0.9" />
<text x="208.6" y="89.25" font-size="6.6" fill="#333" text-anchor="end">300000</text>
<line x1="211.80" y1="94.60" x2="214.40" y2="94.60" stroke="#1a1a1a" stroke-width="0.9" />
<text x="208.6" y="96.95" font-size="6.6" fill="#333" text-anchor="end">200000</text>
<line x1="211.80" y1="102.30" x2="214.40" y2="102.30" stroke="#1a1a1a" stroke-width="0.9" />
<text x="208.6" y="104.65" font-size="6.6" fill="#333" text-anchor="end">100000</text>
<line x1="211.80" y1="112.30" x2="214.40" y2="112.30" stroke="#1a1a1a" stroke-width="0.9" />
<text x="208.6" y="114.65" font-size="6.6" fill="#333" text-anchor="end">2000</text>
<line x1="211.80" y1="120.00" x2="214.40" y2="120.00" stroke="#1a1a1a" stroke-width="0.9" />
<text x="208.6" y="122.35" font-size="6.6" fill="#333" text-anchor="end">1500</text>
<line x1="211.80" y1="127.70" x2="214.40" y2="127.70" stroke="#1a1a1a" stroke-width="0.9" />
<text x="208.6" y="130.05" font-size="6.6" fill="#333" text-anchor="end">1000</text>
<line x1="211.80" y1="135.40" x2="214.40" y2="135.40" stroke="#1a1a1a" stroke-width="0.9" />
<text x="208.6" y="137.75" font-size="6.6" fill="#333" text-anchor="end">500</text>
<line x1="211.80" y1="143.00" x2="214.40" y2="143.00" stroke="#1a1a1a" stroke-width="0.9" />
<text x="208.6" y="145.35" font-size="6.6" fill="#333" text-anchor="end">0</text>
<text transform="translate(181.50,79.20) rotate(-90)" font-size="8.6" fill="#222" text-anchor="middle" font-weight="bold" textLength="68" lengthAdjust="spacingAndGlyphs">Transformed colony counts</text>
<line x1="223.60" y1="142.80" x2="223.60" y2="145.20" stroke="#1a1a1a" stroke-width="0.9" />
<text x="223.60" y="154.94" font-size="6.5" fill="#333" text-anchor="middle" >1.0</text>
<line x1="243.10" y1="142.80" x2="243.10" y2="145.20" stroke="#1a1a1a" stroke-width="0.9" />
<text x="243.10" y="154.94" font-size="6.5" fill="#333" text-anchor="middle" >2.0</text>
<line x1="262.70" y1="142.80" x2="262.70" y2="145.20" stroke="#1a1a1a" stroke-width="0.9" />
<text x="262.70" y="154.94" font-size="6.5" fill="#333" text-anchor="middle" >3.0</text>
<line x1="282.50" y1="142.80" x2="282.50" y2="145.20" stroke="#1a1a1a" stroke-width="0.9" />
<text x="282.50" y="154.94" font-size="6.5" fill="#333" text-anchor="middle" >4.0</text>
<line x1="302.40" y1="142.80" x2="302.40" y2="145.20" stroke="#1a1a1a" stroke-width="0.9" />
<text x="302.40" y="154.94" font-size="6.5" fill="#333" text-anchor="middle" >5.0</text>
<line x1="322.30" y1="142.80" x2="322.30" y2="145.20" stroke="#1a1a1a" stroke-width="0.9" />
<text x="322.30" y="154.94" font-size="6.5" fill="#333" text-anchor="middle" >6.0</text>
<text x="272.60" y="165.94" font-size="7.6" fill="#222" text-anchor="middle" font-weight="bold" textLength="45" lengthAdjust="spacingAndGlyphs" >Replating number</text>
<rect x="221.20" y="29.50" width="5.50" height="5.30" fill="#3c5687" />
<rect x="221.20" y="38.50" width="5.50" height="5.40" fill="#62aee2" />
<text x="230.20" y="34.65" font-size="6.8" fill="#333" textLength="23.0" lengthAdjust="spacingAndGlyphs" >EV n = 7</text>
<text x="230.20" y="43.65" font-size="6.8" fill="#333" textLength="23.0" lengthAdjust="spacingAndGlyphs" >YF n = 7</text>
<text x="221.50" y="52.65" font-size="6.8" fill="#333" textLength="9.2" lengthAdjust="spacingAndGlyphs" >WT</text>
<rect x="237.80" y="141.40" width="2.80" height="1.40" fill="#3c5687" />
<rect x="244.80" y="142.20" width="3.80" height="0.60" fill="#62aee2" />
<rect x="257.10" y="130.30" width="4.50" height="12.50" fill="#3c5687" />
<line x1="259.35" y1="126.50" x2="259.35" y2="130.30" stroke="#7484a2" stroke-width="0.65" />
<line x1="257.95" y1="126.50" x2="260.75" y2="126.50" stroke="#7484a2" stroke-width="0.65" />
<rect x="264.00" y="131.60" width="4.80" height="11.20" fill="#62aee2" />
<line x1="266.40" y1="130.30" x2="266.40" y2="131.60" stroke="#8fc0e2" stroke-width="0.65" />
<line x1="265.00" y1="130.30" x2="267.80" y2="130.30" stroke="#8fc0e2" stroke-width="0.65" />
<rect x="276.80" y="108.80" width="4.80" height="34.00" fill="#3c5687" />
<rect x="284.00" y="108.50" width="5.00" height="34.30" fill="#62aee2" />
<line x1="286.50" y1="107.80" x2="286.50" y2="108.50" stroke="#8fc0e2" stroke-width="0.65" />
<line x1="285.10" y1="107.80" x2="287.90" y2="107.80" stroke="#8fc0e2" stroke-width="0.65" />
<rect x="296.70" y="96.70" width="4.80" height="46.10" fill="#3c5687" />
<line x1="299.10" y1="89.40" x2="299.10" y2="96.70" stroke="#7484a2" stroke-width="0.65" />
<line x1="297.70" y1="89.40" x2="300.50" y2="89.40" stroke="#7484a2" stroke-width="0.65" />
<rect x="304.00" y="68.00" width="4.80" height="74.80" fill="#62aee2" />
<rect x="316.60" y="107.60" width="4.80" height="35.20" fill="#3c5687" />
<line x1="319.00" y1="105.30" x2="319.00" y2="107.60" stroke="#7484a2" stroke-width="0.65" />
<line x1="317.60" y1="105.30" x2="320.40" y2="105.30" stroke="#7484a2" stroke-width="0.65" />
<rect x="324.00" y="52.50" width="4.80" height="90.30" fill="#62aee2" />
<line x1="326.40" y1="35.40" x2="326.40" y2="52.50" stroke="#8fc0e2" stroke-width="0.65" />
<line x1="325.00" y1="35.40" x2="327.80" y2="35.40" stroke="#8fc0e2" stroke-width="0.65" />
<rect x="255.00" y="110.00" width="76.00" height="2.10" fill="#fff" />
<rect x="300.00" y="69.30" width="31.00" height="2.30" fill="#fff" />
<line x1="299.20" y1="63.60" x2="306.70" y2="63.60" stroke="#333" stroke-width="0.7" />
<text x="302.90" y="63.80" font-size="6.2" font-weight="bold" fill="#222" text-anchor="middle">**</text>
<line x1="318.80" y1="32.30" x2="325.90" y2="32.30" stroke="#333" stroke-width="0.7" />
<text x="322.30" y="32.40" font-size="6.2" font-weight="bold" fill="#222" text-anchor="middle">**</text>
<text x="348.10" y="14.60" font-size="11" font-weight="bold" fill="#000">C</text>
<line x1="395.80" y1="24.20" x2="395.80" y2="95.00" stroke="#1a1a1a" stroke-width="1.1" />
<line x1="395.80" y1="96.90" x2="395.80" y2="143.20" stroke="#1a1a1a" stroke-width="1.1" />
<line x1="394.50" y1="95.00" x2="397.10" y2="95.00" stroke="#1a1a1a" stroke-width="0.8" />
<line x1="394.50" y1="96.90" x2="397.10" y2="96.90" stroke="#1a1a1a" stroke-width="0.8" />
<line x1="395.30" y1="143.00" x2="513.20" y2="143.00" stroke="#1a1a1a" stroke-width="1.1" />
<line x1="392.80" y1="25.40" x2="395.80" y2="25.40" stroke="#1a1a1a" stroke-width="0.9" />
<text x="390.4" y="27.75" font-size="6.6" fill="#333" text-anchor="end">15000</text>
<line x1="392.80" y1="48.70" x2="395.80" y2="48.70" stroke="#1a1a1a" stroke-width="0.9" />
<text x="390.4" y="51.05" font-size="6.6" fill="#333" text-anchor="end">10000</text>
<line x1="392.80" y1="71.90" x2="395.80" y2="71.90" stroke="#1a1a1a" stroke-width="0.9" />
<text x="390.4" y="74.25" font-size="6.6" fill="#333" text-anchor="end">5000</text>
<line x1="392.80" y1="96.90" x2="395.80" y2="96.90" stroke="#1a1a1a" stroke-width="0.9" />
<text x="390.4" y="99.25" font-size="6.6" fill="#333" text-anchor="end">50</text>
<line x1="392.80" y1="106.14" x2="395.80" y2="106.14" stroke="#1a1a1a" stroke-width="0.9" />
<text x="390.4" y="108.49" font-size="6.6" fill="#333" text-anchor="end">40</text>
<line x1="392.80" y1="115.38" x2="395.80" y2="115.38" stroke="#1a1a1a" stroke-width="0.9" />
<text x="390.4" y="117.73" font-size="6.6" fill="#333" text-anchor="end">30</text>
<line x1="392.80" y1="124.62" x2="395.80" y2="124.62" stroke="#1a1a1a" stroke-width="0.9" />
<text x="390.4" y="126.97" font-size="6.6" fill="#333" text-anchor="end">20</text>
<line x1="392.80" y1="133.86" x2="395.80" y2="133.86" stroke="#1a1a1a" stroke-width="0.9" />
<text x="390.4" y="136.21" font-size="6.6" fill="#333" text-anchor="end">10</text>
<line x1="392.80" y1="143.10" x2="395.80" y2="143.10" stroke="#1a1a1a" stroke-width="0.9" />
<text x="390.4" y="145.45" font-size="6.6" fill="#333" text-anchor="end">0</text>
<text transform="translate(366.50,79.40) rotate(-90)" font-size="8.6" fill="#222" text-anchor="middle" font-weight="bold" textLength="68" lengthAdjust="spacingAndGlyphs">Transformed colony counts</text>
<line x1="404.80" y1="143.00" x2="404.80" y2="145.40" stroke="#1a1a1a" stroke-width="0.9" />
<text x="404.80" y="155.34" font-size="6.5" fill="#333" text-anchor="middle" >1.0</text>
<line x1="424.90" y1="143.00" x2="424.90" y2="145.40" stroke="#1a1a1a" stroke-width="0.9" />
<text x="424.90" y="155.34" font-size="6.5" fill="#333" text-anchor="middle" >2.0</text>
<line x1="444.80" y1="143.00" x2="444.80" y2="145.40" stroke="#1a1a1a" stroke-width="0.9" />
<text x="444.80" y="155.34" font-size="6.5" fill="#333" text-anchor="middle" >3.0</text>
<line x1="464.80" y1="143.00" x2="464.80" y2="145.40" stroke="#1a1a1a" stroke-width="0.9" />
<text x="464.80" y="155.34" font-size="6.5" fill="#333" text-anchor="middle" >4.0</text>
<line x1="484.60" y1="143.00" x2="484.60" y2="145.40" stroke="#1a1a1a" stroke-width="0.9" />
<text x="484.60" y="155.34" font-size="6.5" fill="#333" text-anchor="middle" >5.0</text>
<line x1="504.80" y1="143.00" x2="504.80" y2="145.40" stroke="#1a1a1a" stroke-width="0.9" />
<text x="504.80" y="155.34" font-size="6.5" fill="#333" text-anchor="middle" >6.0</text>
<text x="454.50" y="165.94" font-size="7.6" fill="#222" text-anchor="middle" font-weight="bold" textLength="45" lengthAdjust="spacingAndGlyphs" >Replating number</text>
<rect x="403.00" y="29.80" width="5.30" height="5.20" fill="#3c5687" />
<rect x="403.00" y="38.50" width="5.30" height="5.10" fill="#62aee2" />
<text x="411.50" y="34.85" font-size="6.8" fill="#333" textLength="23.7" lengthAdjust="spacingAndGlyphs" >EV n = 4</text>
<text x="411.50" y="43.55" font-size="6.8" fill="#333" textLength="23.7" lengthAdjust="spacingAndGlyphs" >YF n = 4</text>
<text x="403.00" y="52.85" font-size="6.8" fill="#333" textLength="8.7" lengthAdjust="spacingAndGlyphs" >KO</text>
<rect x="418.30" y="137.90" width="4.60" height="5.10" fill="#3c5687" />
<line x1="420.60" y1="135.40" x2="420.60" y2="137.90" stroke="#7484a2" stroke-width="0.65" />
<line x1="419.20" y1="135.40" x2="422.00" y2="135.40" stroke="#7484a2" stroke-width="0.65" />
<rect x="426.30" y="137.00" width="4.50" height="6.00" fill="#62aee2" />
<line x1="428.55" y1="134.00" x2="428.55" y2="137.00" stroke="#8fc0e2" stroke-width="0.65" />
<line x1="427.15" y1="134.00" x2="429.95" y2="134.00" stroke="#8fc0e2" stroke-width="0.65" />
<rect x="438.80" y="137.90" width="4.50" height="5.10" fill="#3c5687" />
<line x1="441.05" y1="136.80" x2="441.05" y2="137.90" stroke="#7484a2" stroke-width="0.65" />
<line x1="439.65" y1="136.80" x2="442.45" y2="136.80" stroke="#7484a2" stroke-width="0.65" />
<rect x="446.00" y="126.90" width="4.80" height="16.10" fill="#62aee2" />
<line x1="448.40" y1="124.80" x2="448.40" y2="126.90" stroke="#8fc0e2" stroke-width="0.65" />
<line x1="447.00" y1="124.80" x2="449.80" y2="124.80" stroke="#8fc0e2" stroke-width="0.65" />
<rect x="458.80" y="94.30" width="4.50" height="48.70" fill="#3c5687" />
<rect x="466.10" y="93.00" width="4.50" height="50.00" fill="#62aee2" />
<line x1="468.35" y1="90.10" x2="468.35" y2="93.00" stroke="#8fc0e2" stroke-width="0.65" />
<line x1="466.95" y1="90.10" x2="469.75" y2="90.10" stroke="#8fc0e2" stroke-width="0.65" />
<rect x="478.60" y="70.10" width="5.20" height="72.90" fill="#3c5687" />
<line x1="481.20" y1="45.40" x2="481.20" y2="70.10" stroke="#7484a2" stroke-width="0.65" />
<line x1="479.80" y1="45.40" x2="482.60" y2="45.40" stroke="#7484a2" stroke-width="0.65" />
<rect x="485.80" y="63.70" width="5.20" height="79.30" fill="#62aee2" />
<line x1="488.40" y1="32.10" x2="488.40" y2="63.70" stroke="#8fc0e2" stroke-width="0.65" />
<line x1="487.00" y1="32.10" x2="489.80" y2="32.10" stroke="#8fc0e2" stroke-width="0.65" />
<rect x="456.00" y="94.60" width="40.00" height="2.30" fill="#fff" />
<line x1="440.80" y1="120.20" x2="448.00" y2="120.20" stroke="#333" stroke-width="0.7" />
<text x="444.60" y="120.50" font-size="6.2" font-weight="bold" fill="#222" text-anchor="middle">*</text>
<text x="6.70" y="315.10" font-size="11" font-weight="bold" fill="#000">E</text>
<line x1="45.60" y1="329.80" x2="45.60" y2="449.20" stroke="#1a1a1a" stroke-width="1.1" />
<line x1="45.10" y1="448.70" x2="167.50" y2="448.70" stroke="#1a1a1a" stroke-width="1.1" />
<line x1="42.40" y1="448.70" x2="45.60" y2="448.70" stroke="#1a1a1a" stroke-width="0.9" />
<text x="39.70" y="451.05" font-size="6.6" fill="#333" text-anchor="end">0</text>
<line x1="42.40" y1="425.30" x2="45.60" y2="425.30" stroke="#1a1a1a" stroke-width="0.9" />
<text x="39.70" y="427.65" font-size="6.6" fill="#333" text-anchor="end">10</text>
<line x1="42.40" y1="401.90" x2="45.60" y2="401.90" stroke="#1a1a1a" stroke-width="0.9" />
<text x="39.70" y="404.25" font-size="6.6" fill="#333" text-anchor="end">20</text>
<line x1="42.40" y1="378.50" x2="45.60" y2="378.50" stroke="#1a1a1a" stroke-width="0.9" />
<text x="39.70" y="380.85" font-size="6.6" fill="#333" text-anchor="end">30</text>
<line x1="42.40" y1="355.10" x2="45.60" y2="355.10" stroke="#1a1a1a" stroke-width="0.9" />
<text x="39.70" y="357.45" font-size="6.6" fill="#333" text-anchor="end">40</text>
<line x1="42.40" y1="331.70" x2="45.60" y2="331.70" stroke="#1a1a1a" stroke-width="0.9" />
<text x="39.70" y="334.05" font-size="6.6" fill="#333" text-anchor="end">50</text>
<line x1="45.50" y1="448.70" x2="45.50" y2="451.30" stroke="#1a1a1a" stroke-width="0.9" />
<text x="45.50" y="460.88" font-size="6.6" fill="#333" text-anchor="middle" >0</text>
<line x1="62.38" y1="448.70" x2="62.38" y2="451.30" stroke="#1a1a1a" stroke-width="0.9" />
<text x="62.38" y="460.88" font-size="6.6" fill="#333" text-anchor="middle" >4</text>
<line x1="79.26" y1="448.70" x2="79.26" y2="451.30" stroke="#1a1a1a" stroke-width="0.9" />
<text x="79.26" y="460.88" font-size="6.6" fill="#333" text-anchor="middle" >8</text>
<line x1="96.14" y1="448.70" x2="96.14" y2="451.30" stroke="#1a1a1a" stroke-width="0.9" />
<text x="96.14" y="460.88" font-size="6.6" fill="#333" text-anchor="middle" >12</text>
<line x1="113.02" y1="448.70" x2="113.02" y2="451.30" stroke="#1a1a1a" stroke-width="0.9" />
<text x="113.02" y="460.88" font-size="6.6" fill="#333" text-anchor="middle" >16</text>
<line x1="129.90" y1="448.70" x2="129.90" y2="451.30" stroke="#1a1a1a" stroke-width="0.9" />
<text x="129.90" y="460.88" font-size="6.6" fill="#333" text-anchor="middle" >20</text>
<line x1="146.78" y1="448.70" x2="146.78" y2="451.30" stroke="#1a1a1a" stroke-width="0.9" />
<text x="146.78" y="460.88" font-size="6.6" fill="#333" text-anchor="middle" >24</text>
<line x1="163.66" y1="448.70" x2="163.66" y2="451.30" stroke="#1a1a1a" stroke-width="0.9" />
<text x="163.66" y="460.88" font-size="6.6" fill="#333" text-anchor="middle" >28</text>
<line x1="62.38" y1="421.40" x2="62.38" y2="441.40" stroke="#6f7f9c" stroke-width="0.7" />
<line x1="61.18" y1="421.40" x2="63.58" y2="421.40" stroke="#6f7f9c" stroke-width="0.7" />
<line x1="61.18" y1="441.40" x2="63.58" y2="441.40" stroke="#6f7f9c" stroke-width="0.7" />
<line x1="79.26" y1="404.50" x2="79.26" y2="441.30" stroke="#6f7f9c" stroke-width="0.7" />
<line x1="78.06" y1="404.50" x2="80.46" y2="404.50" stroke="#6f7f9c" stroke-width="0.7" />
<line x1="78.06" y1="441.30" x2="80.46" y2="441.30" stroke="#6f7f9c" stroke-width="0.7" />
<line x1="96.14" y1="410.20" x2="96.14" y2="443.20" stroke="#6f7f9c" stroke-width="0.7" />
<line x1="94.94" y1="410.20" x2="97.34" y2="410.20" stroke="#6f7f9c" stroke-width="0.7" />
<line x1="94.94" y1="443.20" x2="97.34" y2="443.20" stroke="#6f7f9c" stroke-width="0.7" />
<line x1="113.02" y1="410.20" x2="113.02" y2="443.60" stroke="#6f7f9c" stroke-width="0.7" />
<line x1="111.82" y1="410.20" x2="114.22" y2="410.20" stroke="#6f7f9c" stroke-width="0.7" />
<line x1="111.82" y1="443.60" x2="114.22" y2="443.60" stroke="#6f7f9c" stroke-width="0.7" />
<line x1="129.90" y1="404.50" x2="129.90" y2="437.10" stroke="#6f7f9c" stroke-width="0.7" />
<line x1="128.70" y1="404.50" x2="131.10" y2="404.50" stroke="#6f7f9c" stroke-width="0.7" />
<line x1="128.70" y1="437.10" x2="131.10" y2="437.10" stroke="#6f7f9c" stroke-width="0.7" />
<line x1="146.78" y1="400.30" x2="146.78" y2="435.30" stroke="#6f7f9c" stroke-width="0.7" />
<line x1="145.58" y1="400.30" x2="147.98" y2="400.30" stroke="#6f7f9c" stroke-width="0.7" />
<line x1="145.58" y1="435.30" x2="147.98" y2="435.30" stroke="#6f7f9c" stroke-width="0.7" />
<line x1="62.38" y1="430.00" x2="62.38" y2="448.70" stroke="#9ccbe9" stroke-width="0.7" />
<line x1="61.18" y1="430.00" x2="63.58" y2="430.00" stroke="#9ccbe9" stroke-width="0.7" />
<line x1="79.26" y1="414.50" x2="79.26" y2="441.10" stroke="#9ccbe9" stroke-width="0.7" />
<line x1="78.06" y1="414.50" x2="80.46" y2="414.50" stroke="#9ccbe9" stroke-width="0.7" />
<line x1="78.06" y1="441.10" x2="80.46" y2="441.10" stroke="#9ccbe9" stroke-width="0.7" />
<line x1="96.14" y1="431.00" x2="96.14" y2="448.70" stroke="#9ccbe9" stroke-width="0.7" />
<line x1="94.94" y1="431.00" x2="97.34" y2="431.00" stroke="#9ccbe9" stroke-width="0.7" />
<line x1="113.02" y1="437.50" x2="113.02" y2="448.70" stroke="#9ccbe9" stroke-width="0.7" />
<line x1="111.82" y1="437.50" x2="114.22" y2="437.50" stroke="#9ccbe9" stroke-width="0.7" />
<line x1="129.90" y1="428.50" x2="129.90" y2="440.50" stroke="#9ccbe9" stroke-width="0.7" />
<line x1="128.70" y1="428.50" x2="131.10" y2="428.50" stroke="#9ccbe9" stroke-width="0.7" />
<line x1="128.70" y1="440.50" x2="131.10" y2="440.50" stroke="#9ccbe9" stroke-width="0.7" />
<line x1="146.78" y1="428.00" x2="146.78" y2="441.10" stroke="#9ccbe9" stroke-width="0.7" />
<line x1="145.58" y1="428.00" x2="147.98" y2="428.00" stroke="#9ccbe9" stroke-width="0.7" />
<line x1="145.58" y1="441.10" x2="147.98" y2="441.10" stroke="#9ccbe9" stroke-width="0.7" />
<polyline points="62.38,436.60 79.26,427.80 96.14,437.30 113.02,441.10 129.90,434.10 146.78,434.10" fill="none" stroke="#6cb6e3" stroke-width="1"/>
<polyline points="62.38,431.40 79.26,422.90 96.14,426.70 113.02,426.90 129.90,420.80 146.78,417.80" fill="none" stroke="#3b5585" stroke-width="1"/>
<circle cx="62.38" cy="436.60" r="2.50" fill="#8cc6ea" stroke="#6cb6e3" stroke-width="0.8"/>
<circle cx="79.26" cy="427.80" r="2.50" fill="#8cc6ea" stroke="#6cb6e3" stroke-width="0.8"/>
<circle cx="96.14" cy="437.30" r="2.50" fill="#8cc6ea" stroke="#6cb6e3" stroke-width="0.8"/>
<circle cx="113.02" cy="441.10" r="2.50" fill="#8cc6ea" stroke="#6cb6e3" stroke-width="0.8"/>
<circle cx="129.90" cy="434.10" r="2.50" fill="#8cc6ea" stroke="#6cb6e3" stroke-width="0.8"/>
<circle cx="146.78" cy="434.10" r="2.50" fill="#8cc6ea" stroke="#6cb6e3" stroke-width="0.8"/>
<circle cx="62.38" cy="431.40" r="1.95" fill="#4d6795" stroke="#3b5585" stroke-width="0.7"/>
<circle cx="79.26" cy="422.90" r="1.95" fill="#4d6795" stroke="#3b5585" stroke-width="0.7"/>
<circle cx="96.14" cy="426.70" r="1.95" fill="#4d6795" stroke="#3b5585" stroke-width="0.7"/>
<circle cx="113.02" cy="426.90" r="1.95" fill="#4d6795" stroke="#3b5585" stroke-width="0.7"/>
<circle cx="129.90" cy="420.80" r="1.95" fill="#4d6795" stroke="#3b5585" stroke-width="0.7"/>
<circle cx="146.78" cy="417.80" r="1.95" fill="#4d6795" stroke="#3b5585" stroke-width="0.7"/>
<line x1="51.30" y1="336.90" x2="60.90" y2="336.90" stroke="#3b5585" stroke-width="1" />
<circle cx="56.30" cy="336.90" r="1.90" fill="#4d6795" stroke="#3b5585" stroke-width="0.7"/>
<text x="63.70" y="339.35" font-size="6.8" fill="#222" textLength="29.4" lengthAdjust="spacingAndGlyphs" >EV n = 4-3</text>
<line x1="51.30" y1="345.60" x2="60.90" y2="345.60" stroke="#6cb6e3" stroke-width="1" />
<circle cx="56.30" cy="345.60" r="2.30" fill="#8cc6ea" stroke="#6cb6e3" stroke-width="0.7"/>
<text x="63.70" y="348.05" font-size="6.8" fill="#222" textLength="24.0" lengthAdjust="spacingAndGlyphs" >YF n = 4</text>
<text x="102.00" y="324.10" font-size="8.6" fill="#222">1<tspan font-size="4.99" dy="-4.30" dx="0.5">0</tspan></text>
<text transform="translate(27.49,389.00) rotate(-90)" font-size="8.3" fill="#222" text-anchor="middle" font-weight="bold" textLength="55.0" lengthAdjust="spacingAndGlyphs">Donor chimerism (%)</text>
<text x="72.60" y="471.75" font-size="8.2" fill="#222" font-weight="bold" textLength="67.3" lengthAdjust="spacingAndGlyphs" >Week post transplantation</text>
<text x="6.70" y="498.60" font-size="11" font-weight="bold" fill="#000">F</text>
<line x1="43.80" y1="508.80" x2="43.80" y2="628.80" stroke="#1a1a1a" stroke-width="1.1" />
<line x1="43.30" y1="628.30" x2="166.50" y2="628.30" stroke="#1a1a1a" stroke-width="1.1" />
<line x1="40.60" y1="628.30" x2="43.80" y2="628.30" stroke="#1a1a1a" stroke-width="0.9" />
<text x="37.90" y="630.65" font-size="6.6" fill="#333" text-anchor="end">0</text>
<line x1="40.60" y1="604.70" x2="43.80" y2="604.70" stroke="#1a1a1a" stroke-width="0.9" />
<text x="37.90" y="607.05" font-size="6.6" fill="#333" text-anchor="end">10</text>
<line x1="40.60" y1="581.10" x2="43.80" y2="581.10" stroke="#1a1a1a" stroke-width="0.9" />
<text x="37.90" y="583.45" font-size="6.6" fill="#333" text-anchor="end">20</text>
<line x1="40.60" y1="557.50" x2="43.80" y2="557.50" stroke="#1a1a1a" stroke-width="0.9" />
<text x="37.90" y="559.85" font-size="6.6" fill="#333" text-anchor="end">30</text>
<line x1="40.60" y1="533.90" x2="43.80" y2="533.90" stroke="#1a1a1a" stroke-width="0.9" />
<text x="37.90" y="536.25" font-size="6.6" fill="#333" text-anchor="end">40</text>
<line x1="40.60" y1="510.30" x2="43.80" y2="510.30" stroke="#1a1a1a" stroke-width="0.9" />
<text x="37.90" y="512.65" font-size="6.6" fill="#333" text-anchor="end">50</text>
<line x1="44.20" y1="628.30" x2="44.20" y2="630.90" stroke="#1a1a1a" stroke-width="0.9" />
<text x="44.20" y="640.38" font-size="6.6" fill="#333" text-anchor="middle" >0</text>
<line x1="64.00" y1="628.30" x2="64.00" y2="630.90" stroke="#1a1a1a" stroke-width="0.9" />
<text x="64.00" y="640.38" font-size="6.6" fill="#333" text-anchor="middle" >4</text>
<line x1="83.80" y1="628.30" x2="83.80" y2="630.90" stroke="#1a1a1a" stroke-width="0.9" />
<text x="83.80" y="640.38" font-size="6.6" fill="#333" text-anchor="middle" >8</text>
<line x1="103.60" y1="628.30" x2="103.60" y2="630.90" stroke="#1a1a1a" stroke-width="0.9" />
<text x="103.60" y="640.38" font-size="6.6" fill="#333" text-anchor="middle" >12</text>
<line x1="123.40" y1="628.30" x2="123.40" y2="630.90" stroke="#1a1a1a" stroke-width="0.9" />
<text x="123.40" y="640.38" font-size="6.6" fill="#333" text-anchor="middle" >16</text>
<line x1="143.20" y1="628.30" x2="143.20" y2="630.90" stroke="#1a1a1a" stroke-width="0.9" />
<text x="143.20" y="640.38" font-size="6.6" fill="#333" text-anchor="middle" >20</text>
<line x1="163.00" y1="628.30" x2="163.00" y2="630.90" stroke="#1a1a1a" stroke-width="0.9" />
<text x="163.00" y="640.38" font-size="6.6" fill="#333" text-anchor="middle" >24</text>
<line x1="64.00" y1="565.40" x2="64.00" y2="581.20" stroke="#6f7f9c" stroke-width="0.7" />
<line x1="62.80" y1="565.40" x2="65.20" y2="565.40" stroke="#6f7f9c" stroke-width="0.7" />
<line x1="62.80" y1="581.20" x2="65.20" y2="581.20" stroke="#6f7f9c" stroke-width="0.7" />
<line x1="83.80" y1="549.60" x2="83.80" y2="569.80" stroke="#6f7f9c" stroke-width="0.7" />
<line x1="82.60" y1="549.60" x2="85.00" y2="549.60" stroke="#6f7f9c" stroke-width="0.7" />
<line x1="82.60" y1="569.80" x2="85.00" y2="569.80" stroke="#6f7f9c" stroke-width="0.7" />
<line x1="103.60" y1="556.30" x2="103.60" y2="569.20" stroke="#6f7f9c" stroke-width="0.7" />
<line x1="102.40" y1="556.30" x2="104.80" y2="556.30" stroke="#6f7f9c" stroke-width="0.7" />
<line x1="102.40" y1="569.20" x2="104.80" y2="569.20" stroke="#6f7f9c" stroke-width="0.7" />
<line x1="123.40" y1="563.50" x2="123.40" y2="573.30" stroke="#6f7f9c" stroke-width="0.7" />
<line x1="122.20" y1="563.50" x2="124.60" y2="563.50" stroke="#6f7f9c" stroke-width="0.7" />
<line x1="122.20" y1="573.30" x2="124.60" y2="573.30" stroke="#6f7f9c" stroke-width="0.7" />
<line x1="143.20" y1="554.40" x2="143.20" y2="565.60" stroke="#6f7f9c" stroke-width="0.7" />
<line x1="142.00" y1="554.40" x2="144.40" y2="554.40" stroke="#6f7f9c" stroke-width="0.7" />
<line x1="142.00" y1="565.60" x2="144.40" y2="565.60" stroke="#6f7f9c" stroke-width="0.7" />
<line x1="64.00" y1="564.80" x2="64.00" y2="606.20" stroke="#9ccbe9" stroke-width="0.7" />
<line x1="62.80" y1="564.80" x2="65.20" y2="564.80" stroke="#9ccbe9" stroke-width="0.7" />
<line x1="62.80" y1="606.20" x2="65.20" y2="606.20" stroke="#9ccbe9" stroke-width="0.7" />
<line x1="83.80" y1="610.40" x2="83.80" y2="620.00" stroke="#9ccbe9" stroke-width="0.7" />
<line x1="82.60" y1="610.40" x2="85.00" y2="610.40" stroke="#9ccbe9" stroke-width="0.7" />
<line x1="82.60" y1="620.00" x2="85.00" y2="620.00" stroke="#9ccbe9" stroke-width="0.7" />
<line x1="103.60" y1="622.20" x2="103.60" y2="626.20" stroke="#9ccbe9" stroke-width="0.7" />
<line x1="102.40" y1="622.20" x2="104.80" y2="622.20" stroke="#9ccbe9" stroke-width="0.7" />
<line x1="102.40" y1="626.20" x2="104.80" y2="626.20" stroke="#9ccbe9" stroke-width="0.7" />
<line x1="123.40" y1="620.60" x2="123.40" y2="626.00" stroke="#9ccbe9" stroke-width="0.7" />
<line x1="122.20" y1="620.60" x2="124.60" y2="620.60" stroke="#9ccbe9" stroke-width="0.7" />
<line x1="122.20" y1="626.00" x2="124.60" y2="626.00" stroke="#9ccbe9" stroke-width="0.7" />
<line x1="143.20" y1="622.20" x2="143.20" y2="626.20" stroke="#9ccbe9" stroke-width="0.7" />
<line x1="142.00" y1="622.20" x2="144.40" y2="622.20" stroke="#9ccbe9" stroke-width="0.7" />
<line x1="142.00" y1="626.20" x2="144.40" y2="626.20" stroke="#9ccbe9" stroke-width="0.7" />
<polyline points="64.00,587.90 83.80,615.20 103.60,624.20 123.40,623.30 143.20,624.20" fill="none" stroke="#6cb6e3" stroke-width="1"/>
<polyline points="64.00,573.50 83.80,559.80 103.60,562.70 123.40,568.50 143.20,559.80" fill="none" stroke="#3b5585" stroke-width="1"/>
<circle cx="64.00" cy="587.90" r="2.50" fill="#8cc6ea" stroke="#6cb6e3" stroke-width="0.8"/>
<circle cx="83.80" cy="615.20" r="2.50" fill="#8cc6ea" stroke="#6cb6e3" stroke-width="0.8"/>
<circle cx="103.60" cy="624.20" r="2.50" fill="#8cc6ea" stroke="#6cb6e3" stroke-width="0.8"/>
<circle cx="123.40" cy="623.30" r="2.50" fill="#8cc6ea" stroke="#6cb6e3" stroke-width="0.8"/>
<circle cx="143.20" cy="624.20" r="2.50" fill="#8cc6ea" stroke="#6cb6e3" stroke-width="0.8"/>
<circle cx="64.00" cy="573.50" r="1.95" fill="#4d6795" stroke="#3b5585" stroke-width="0.7"/>
<circle cx="83.80" cy="559.80" r="1.95" fill="#4d6795" stroke="#3b5585" stroke-width="0.7"/>
<circle cx="103.60" cy="562.70" r="1.95" fill="#4d6795" stroke="#3b5585" stroke-width="0.7"/>
<circle cx="123.40" cy="568.50" r="1.95" fill="#4d6795" stroke="#3b5585" stroke-width="0.7"/>
<circle cx="143.20" cy="559.80" r="1.95" fill="#4d6795" stroke="#3b5585" stroke-width="0.7"/>
<text x="83.80" y="609.00" font-size="6.2" font-weight="bold" fill="#222" text-anchor="middle">*</text>
<text x="103.70" y="621.50" font-size="6.2" font-weight="bold" fill="#222" text-anchor="middle">*</text>
<text x="123.80" y="619.20" font-size="6.2" font-weight="bold" fill="#222" text-anchor="middle">*</text>
<text x="143.50" y="621.50" font-size="6.2" font-weight="bold" fill="#222" text-anchor="middle">*</text>
<line x1="51.30" y1="516.90" x2="60.90" y2="516.90" stroke="#3b5585" stroke-width="1" />
<circle cx="56.30" cy="516.90" r="1.90" fill="#4d6795" stroke="#3b5585" stroke-width="0.7"/>
<text x="63.70" y="519.35" font-size="6.8" fill="#222" textLength="24.0" lengthAdjust="spacingAndGlyphs" >EV n = 3</text>
<line x1="51.30" y1="526.20" x2="60.90" y2="526.20" stroke="#6cb6e3" stroke-width="1" />
<circle cx="56.30" cy="526.20" r="2.30" fill="#8cc6ea" stroke="#6cb6e3" stroke-width="0.7"/>
<text x="63.70" y="528.65" font-size="6.8" fill="#222" textLength="24.0" lengthAdjust="spacingAndGlyphs" >YF n = 4</text>
<text x="102.00" y="503.90" font-size="8.6" fill="#222">2<tspan font-size="4.99" dy="-4.30" dx="0.5">0</tspan></text>
<text transform="translate(27.49,568.50) rotate(-90)" font-size="8.3" fill="#222" text-anchor="middle" font-weight="bold" textLength="55.0" lengthAdjust="spacingAndGlyphs">Donor chimerism (%)</text>
<text x="71.70" y="651.75" font-size="8.2" fill="#222" font-weight="bold" textLength="67.3" lengthAdjust="spacingAndGlyphs" >Week post transplantation</text>
<text x="183.20" y="315.10" font-size="11" font-weight="bold" fill="#000">G</text>
<line x1="224.70" y1="326.30" x2="224.70" y2="449.90" stroke="#1a1a1a" stroke-width="1.1" />
<line x1="224.20" y1="449.40" x2="354.60" y2="449.40" stroke="#1a1a1a" stroke-width="1.2" />
<line x1="221.50" y1="449.40" x2="224.70" y2="449.40" stroke="#1a1a1a" stroke-width="0.9" />
<text x="218.80" y="451.75" font-size="6.6" fill="#333" text-anchor="end">0</text>
<line x1="221.50" y1="425.30" x2="224.70" y2="425.30" stroke="#1a1a1a" stroke-width="0.9" />
<text x="218.80" y="427.65" font-size="6.6" fill="#333" text-anchor="end">20</text>
<line x1="221.50" y1="401.20" x2="224.70" y2="401.20" stroke="#1a1a1a" stroke-width="0.9" />
<text x="218.80" y="403.55" font-size="6.6" fill="#333" text-anchor="end">40</text>
<line x1="221.50" y1="377.10" x2="224.70" y2="377.10" stroke="#1a1a1a" stroke-width="0.9" />
<text x="218.80" y="379.45" font-size="6.6" fill="#333" text-anchor="end">60</text>
<line x1="221.50" y1="353.00" x2="224.70" y2="353.00" stroke="#1a1a1a" stroke-width="0.9" />
<text x="218.80" y="355.35" font-size="6.6" fill="#333" text-anchor="end">80</text>
<line x1="221.50" y1="328.90" x2="224.70" y2="328.90" stroke="#1a1a1a" stroke-width="0.9" />
<text x="218.80" y="331.25" font-size="6.6" fill="#333" text-anchor="end">100</text>
<line x1="241.00" y1="449.40" x2="241.00" y2="452.00" stroke="#1a1a1a" stroke-width="0.9" />
<line x1="265.00" y1="449.40" x2="265.00" y2="452.00" stroke="#1a1a1a" stroke-width="0.9" />
<line x1="289.30" y1="449.40" x2="289.30" y2="452.00" stroke="#1a1a1a" stroke-width="0.9" />
<line x1="313.80" y1="449.40" x2="313.80" y2="452.00" stroke="#1a1a1a" stroke-width="0.9" />
<line x1="338.00" y1="449.40" x2="338.00" y2="452.00" stroke="#1a1a1a" stroke-width="0.9" />
<rect x="233.30" y="422.70" width="15.40" height="26.70" fill="#6f7fb0" />
<line x1="241.00" y1="415.60" x2="241.00" y2="422.70" stroke="#a3abc6" stroke-width="0.7" />
<line x1="237.70" y1="415.60" x2="244.30" y2="415.60" stroke="#a3abc6" stroke-width="0.7" />
<rect x="257.30" y="444.30" width="15.40" height="5.10" fill="#a8d6f3" />
<line x1="265.00" y1="441.20" x2="265.00" y2="444.30" stroke="#a9d4ef" stroke-width="0.7" />
<line x1="261.70" y1="441.20" x2="268.30" y2="441.20" stroke="#a9d4ef" stroke-width="0.7" />
<rect x="306.10" y="436.80" width="15.60" height="12.60" fill="#6f7fb0" />
<line x1="313.90" y1="431.90" x2="313.90" y2="436.80" stroke="#a3abc6" stroke-width="0.7" />
<line x1="310.60" y1="431.90" x2="317.20" y2="431.90" stroke="#a3abc6" stroke-width="0.7" />
<rect x="330.20" y="422.00" width="15.70" height="27.40" fill="#a8d6f3" />
<line x1="338.05" y1="402.90" x2="338.05" y2="422.00" stroke="#a9d4ef" stroke-width="0.7" />
<line x1="334.75" y1="402.90" x2="341.35" y2="402.90" stroke="#a9d4ef" stroke-width="0.7" />
<circle cx="241.00" cy="411.70" r="1.05" fill="#1c2b5c" />
<circle cx="241.00" cy="419.80" r="1.05" fill="#1c2b5c" />
<circle cx="241.00" cy="435.20" r="1.05" fill="#1c2b5c" />
<circle cx="265.20" cy="437.70" r="1.05" fill="#3c8cc4" />
<circle cx="265.20" cy="440.60" r="1.05" fill="#3c8cc4" />
<circle cx="265.20" cy="446.30" r="1.05" fill="#3c8cc4" />
<circle cx="313.80" cy="427.50" r="1.05" fill="#1c2b5c" />
<circle cx="313.80" cy="439.70" r="1.05" fill="#1c2b5c" />
<circle cx="313.80" cy="442.10" r="1.05" fill="#1c2b5c" />
<circle cx="338.00" cy="365.80" r="1.05" fill="#3c8cc4" />
<circle cx="338.00" cy="436.20" r="1.05" fill="#3c8cc4" />
<circle cx="338.00" cy="439.70" r="1.05" fill="#3c8cc4" />
<circle cx="338.00" cy="443.00" r="1.05" fill="#3c8cc4" />
<text x="241.00" y="461.10" font-size="6.4" fill="#222" text-anchor="middle" >EV</text>
<text x="265.00" y="461.10" font-size="6.4" fill="#222" text-anchor="middle" >YF</text>
<text x="313.80" y="461.10" font-size="6.4" fill="#222" text-anchor="middle" >EV</text>
<text x="338.00" y="461.10" font-size="6.4" fill="#222" text-anchor="middle" >YF</text>
<polyline points="237.10,464.20 237.10,466.50 269.20,466.50 269.20,464.20" fill="none" stroke="#444" stroke-width="0.7"/>
<polyline points="310.40,464.20 310.40,466.50 342.00,466.50 342.00,464.20" fill="none" stroke="#444" stroke-width="0.7"/>
<text x="253.20" y="475.30" font-size="6.4" fill="#222" text-anchor="middle" textLength="24.2" lengthAdjust="spacingAndGlyphs" >Total BM</text>
<text x="325.60" y="475.30" font-size="6.4" fill="#222" text-anchor="middle" textLength="37.4" lengthAdjust="spacingAndGlyphs" >ESLAM HSCs</text>
<text x="286.30" y="324.10" font-size="8.6" fill="#222">1<tspan font-size="4.99" dy="-4.30" dx="0.5">0</tspan></text>
<text transform="translate(203.59,388.50) rotate(-90)" font-size="8.3" fill="#222" text-anchor="middle" font-weight="bold" textLength="55.0" lengthAdjust="spacingAndGlyphs">Donor chimerism (%)</text>
<text x="183.20" y="498.60" font-size="11" font-weight="bold" fill="#000">H</text>
<line x1="224.70" y1="509.80" x2="224.70" y2="627.80" stroke="#1a1a1a" stroke-width="1.1" />
<line x1="224.20" y1="627.30" x2="354.60" y2="627.30" stroke="#1a1a1a" stroke-width="1.2" />
<line x1="221.50" y1="627.30" x2="224.70" y2="627.30" stroke="#1a1a1a" stroke-width="0.9" />
<text x="218.80" y="629.65" font-size="6.6" fill="#333" text-anchor="end">0</text>
<line x1="221.50" y1="604.04" x2="224.70" y2="604.04" stroke="#1a1a1a" stroke-width="0.9" />
<text x="218.80" y="606.39" font-size="6.6" fill="#333" text-anchor="end">20</text>
<line x1="221.50" y1="580.78" x2="224.70" y2="580.78" stroke="#1a1a1a" stroke-width="0.9" />
<text x="218.80" y="583.13" font-size="6.6" fill="#333" text-anchor="end">40</text>
<line x1="221.50" y1="557.52" x2="224.70" y2="557.52" stroke="#1a1a1a" stroke-width="0.9" />
<text x="218.80" y="559.87" font-size="6.6" fill="#333" text-anchor="end">60</text>
<line x1="221.50" y1="534.26" x2="224.70" y2="534.26" stroke="#1a1a1a" stroke-width="0.9" />
<text x="218.80" y="536.61" font-size="6.6" fill="#333" text-anchor="end">80</text>
<line x1="221.50" y1="511.00" x2="224.70" y2="511.00" stroke="#1a1a1a" stroke-width="0.9" />
<text x="218.80" y="513.35" font-size="6.6" fill="#333" text-anchor="end">100</text>
<line x1="241.00" y1="627.30" x2="241.00" y2="629.90" stroke="#1a1a1a" stroke-width="0.9" />
<line x1="265.00" y1="627.30" x2="265.00" y2="629.90" stroke="#1a1a1a" stroke-width="0.9" />
<line x1="289.30" y1="627.30" x2="289.30" y2="629.90" stroke="#1a1a1a" stroke-width="0.9" />
<line x1="313.80" y1="627.30" x2="313.80" y2="629.90" stroke="#1a1a1a" stroke-width="0.9" />
<line x1="338.00" y1="627.30" x2="338.00" y2="629.90" stroke="#1a1a1a" stroke-width="0.9" />
<rect x="233.30" y="581.70" width="15.40" height="45.60" fill="#6f7fb0" />
<line x1="241.00" y1="573.50" x2="241.00" y2="581.70" stroke="#a3abc6" stroke-width="0.7" />
<line x1="237.70" y1="573.50" x2="244.30" y2="573.50" stroke="#a3abc6" stroke-width="0.7" />
<rect x="257.30" y="625.80" width="15.40" height="1.50" fill="#a8d6f3" />
<line x1="265.00" y1="623.30" x2="265.00" y2="625.80" stroke="#a9d4ef" stroke-width="0.7" />
<line x1="261.70" y1="623.30" x2="268.30" y2="623.30" stroke="#a9d4ef" stroke-width="0.7" />
<rect x="306.20" y="590.10" width="15.20" height="37.20" fill="#6f7fb0" />
<line x1="313.80" y1="579.20" x2="313.80" y2="590.10" stroke="#a3abc6" stroke-width="0.7" />
<line x1="310.50" y1="579.20" x2="317.10" y2="579.20" stroke="#a3abc6" stroke-width="0.7" />
<rect x="330.40" y="553.10" width="15.70" height="74.20" fill="#a8d6f3" />
<line x1="338.25" y1="545.90" x2="338.25" y2="553.10" stroke="#a9d4ef" stroke-width="0.7" />
<line x1="334.95" y1="545.90" x2="341.55" y2="545.90" stroke="#a9d4ef" stroke-width="0.7" />
<circle cx="241.00" cy="570.60" r="1.05" fill="#1c2b5c" />
<circle cx="241.00" cy="576.90" r="1.05" fill="#1c2b5c" />
<circle cx="241.00" cy="596.90" r="1.05" fill="#1c2b5c" />
<circle cx="265.20" cy="621.90" r="1.05" fill="#3c8cc4" />
<circle cx="265.20" cy="624.50" r="1.05" fill="#3c8cc4" />
<circle cx="265.20" cy="626.30" r="1.05" fill="#3c8cc4" />
<circle cx="313.80" cy="571.70" r="1.05" fill="#1c2b5c" />
<circle cx="313.80" cy="588.90" r="1.05" fill="#1c2b5c" />
<circle cx="313.80" cy="608.70" r="1.05" fill="#1c2b5c" />
<circle cx="338.40" cy="536.20" r="1.05" fill="#3c8cc4" />
<circle cx="338.40" cy="550.70" r="1.05" fill="#3c8cc4" />
<circle cx="338.40" cy="555.60" r="1.05" fill="#3c8cc4" />
<circle cx="338.40" cy="568.40" r="1.05" fill="#3c8cc4" />
<line x1="242.50" y1="559.20" x2="262.30" y2="559.20" stroke="#333" stroke-width="0.7" />
<text x="252.70" y="558.20" font-size="6.2" font-weight="bold" fill="#222" text-anchor="middle">**</text>
<line x1="317.10" y1="531.40" x2="336.40" y2="531.40" stroke="#333" stroke-width="0.7" />
<text x="327.50" y="530.40" font-size="6.2" font-weight="bold" fill="#222" text-anchor="middle">*</text>
<text x="241.00" y="638.90" font-size="6.4" fill="#222" text-anchor="middle" >EV</text>
<text x="265.00" y="638.90" font-size="6.4" fill="#222" text-anchor="middle" >YF</text>
<text x="313.80" y="638.90" font-size="6.4" fill="#222" text-anchor="middle" >EV</text>
<text x="338.00" y="638.90" font-size="6.4" fill="#222" text-anchor="middle" >YF</text>
<polyline points="237.10,642.00 237.10,644.30 269.20,644.30 269.20,642.00" fill="none" stroke="#444" stroke-width="0.7"/>
<polyline points="310.40,642.00 310.40,644.30 342.00,644.30 342.00,642.00" fill="none" stroke="#444" stroke-width="0.7"/>
<text x="253.20" y="653.20" font-size="6.4" fill="#222" text-anchor="middle" textLength="24.2" lengthAdjust="spacingAndGlyphs" >Total BM</text>
<text x="325.60" y="653.20" font-size="6.4" fill="#222" text-anchor="middle" textLength="37.4" lengthAdjust="spacingAndGlyphs" >ESLAM HSCs</text>
<text x="285.60" y="503.60" font-size="8.6" fill="#222">2<tspan font-size="4.99" dy="-4.30" dx="0.5">0</tspan></text>
<text transform="translate(203.59,568.00) rotate(-90)" font-size="8.3" fill="#222" text-anchor="middle" font-weight="bold" textLength="55.0" lengthAdjust="spacingAndGlyphs">Donor chimerism (%)</text>
<text x="369.00" y="315.10" font-size="11" font-weight="bold" fill="#000">I</text>
<line x1="413.30" y1="331.70" x2="413.30" y2="449.90" stroke="#1a1a1a" stroke-width="1.1" />
<line x1="412.80" y1="449.40" x2="485.10" y2="449.40" stroke="#1a1a1a" stroke-width="1.2" />
<line x1="410.10" y1="334.10" x2="413.30" y2="334.10" stroke="#1a1a1a" stroke-width="0.9" />
<text x="407.30" y="336.45" font-size="6.6" fill="#333" text-anchor="end">12</text>
<line x1="410.10" y1="349.60" x2="413.30" y2="349.60" stroke="#1a1a1a" stroke-width="0.9" />
<text x="407.30" y="351.95" font-size="6.6" fill="#333" text-anchor="end">10</text>
<line x1="410.10" y1="365.10" x2="413.30" y2="365.10" stroke="#1a1a1a" stroke-width="0.9" />
<text x="407.30" y="367.45" font-size="6.6" fill="#333" text-anchor="end">8</text>
<line x1="410.10" y1="380.60" x2="413.30" y2="380.60" stroke="#1a1a1a" stroke-width="0.9" />
<text x="407.30" y="382.95" font-size="6.6" fill="#333" text-anchor="end">6</text>
<line x1="410.10" y1="396.10" x2="413.30" y2="396.10" stroke="#1a1a1a" stroke-width="0.9" />
<text x="407.30" y="398.45" font-size="6.6" fill="#333" text-anchor="end">4</text>
<line x1="410.10" y1="411.60" x2="413.30" y2="411.60" stroke="#1a1a1a" stroke-width="0.9" />
<text x="407.30" y="413.95" font-size="6.6" fill="#333" text-anchor="end">2.0</text>
<line x1="410.10" y1="421.05" x2="413.30" y2="421.05" stroke="#1a1a1a" stroke-width="0.9" />
<text x="407.30" y="423.40" font-size="6.6" fill="#333" text-anchor="end">1.5</text>
<line x1="410.10" y1="430.50" x2="413.30" y2="430.50" stroke="#1a1a1a" stroke-width="0.9" />
<text x="407.30" y="432.85" font-size="6.6" fill="#333" text-anchor="end">1.0</text>
<line x1="410.10" y1="439.95" x2="413.30" y2="439.95" stroke="#1a1a1a" stroke-width="0.9" />
<text x="407.30" y="442.30" font-size="6.6" fill="#333" text-anchor="end">0.5</text>
<line x1="410.10" y1="449.40" x2="413.30" y2="449.40" stroke="#1a1a1a" stroke-width="0.9" />
<text x="407.30" y="451.75" font-size="6.6" fill="#333" text-anchor="end">0.0</text>
<line x1="411.10" y1="410.60" x2="415.60" y2="410.60" stroke="#3a3a3a" stroke-width="0.8" />
<line x1="411.10" y1="412.40" x2="415.60" y2="412.40" stroke="#3a3a3a" stroke-width="0.8" />
<line x1="433.80" y1="449.40" x2="433.80" y2="452.00" stroke="#1a1a1a" stroke-width="0.9" />
<line x1="464.60" y1="449.40" x2="464.60" y2="452.00" stroke="#1a1a1a" stroke-width="0.9" />
<rect x="424.30" y="441.10" width="19.20" height="8.30" fill="#3d5a8c" />
<rect x="454.60" y="382.80" width="19.20" height="66.60" fill="#62b0e6" />
<rect x="454.60" y="410.30" width="19.20" height="2.10" fill="#fff" />
<line x1="413.30" y1="430.70" x2="484.50" y2="430.70" stroke="#5a5e64" stroke-width="0.7" stroke-dasharray="1,0.7"/>
<line x1="464.20" y1="370.30" x2="464.20" y2="382.80" stroke="#a9d3f0" stroke-width="0.7" />
<line x1="459.10" y1="370.30" x2="469.30" y2="370.30" stroke="#a9d3f0" stroke-width="0.7" />
<circle cx="431.30" cy="438.60" r="1.15" fill="#111" />
<circle cx="436.10" cy="440.00" r="1.15" fill="#111" />
<circle cx="433.80" cy="443.40" r="1.15" fill="#111" />
<circle cx="464.30" cy="352.60" r="1.15" fill="#111" />
<circle cx="464.30" cy="377.70" r="1.15" fill="#111" />
<circle cx="464.30" cy="389.50" r="1.15" fill="#111" />
<circle cx="464.40" cy="408.60" r="1.15" fill="#111" />
<line x1="432.30" y1="345.40" x2="465.40" y2="345.40" stroke="#444" stroke-width="0.7" />
<text x="448.90" y="343.10" font-size="6.2" font-weight="bold" fill="#222" text-anchor="middle">*</text>
<text x="433.80" y="460.80" font-size="6.4" fill="#222" text-anchor="middle" >EV</text>
<text x="464.60" y="460.80" font-size="6.4" fill="#222" text-anchor="middle" >YF</text>
<text x="442.50" y="324.10" font-size="8.6" fill="#222">1<tspan font-size="4.99" dy="-4.30" dx="0.5">0</tspan></text>
<text transform="translate(382.74,385.60) rotate(-90)" font-size="7.6" fill="#222" text-anchor="middle" font-weight="bold" textLength="68.3" lengthAdjust="spacingAndGlyphs">Ratio of ESLAM chimerism</text>
<text transform="translate(392.94,385.60) rotate(-90)" font-size="7.6" fill="#222" text-anchor="middle" font-weight="bold" textLength="58.0" lengthAdjust="spacingAndGlyphs">to total BM chimerism</text>
<text x="367.90" y="499.10" font-size="11" font-weight="bold" fill="#000">J</text>
<line x1="413.30" y1="507.90" x2="413.30" y2="627.90" stroke="#1a1a1a" stroke-width="1.1" />
<line x1="412.80" y1="627.40" x2="485.10" y2="627.40" stroke="#1a1a1a" stroke-width="1.2" />
<line x1="410.10" y1="510.00" x2="413.30" y2="510.00" stroke="#1a1a1a" stroke-width="0.9" />
<text x="407.30" y="512.35" font-size="6.6" fill="#333" text-anchor="end">80</text>
<line x1="410.10" y1="530.00" x2="413.30" y2="530.00" stroke="#1a1a1a" stroke-width="0.9" />
<text x="407.30" y="532.35" font-size="6.6" fill="#333" text-anchor="end">60</text>
<line x1="410.10" y1="550.00" x2="413.30" y2="550.00" stroke="#1a1a1a" stroke-width="0.9" />
<text x="407.30" y="552.35" font-size="6.6" fill="#333" text-anchor="end">40</text>
<line x1="410.10" y1="570.00" x2="413.30" y2="570.00" stroke="#1a1a1a" stroke-width="0.9" />
<text x="407.30" y="572.35" font-size="6.6" fill="#333" text-anchor="end">20</text>
<line x1="410.10" y1="588.80" x2="413.30" y2="588.80" stroke="#1a1a1a" stroke-width="0.9" />
<text x="407.30" y="591.15" font-size="6.6" fill="#333" text-anchor="end">2.0</text>
<line x1="410.10" y1="599.00" x2="413.30" y2="599.00" stroke="#1a1a1a" stroke-width="0.9" />
<text x="407.30" y="601.35" font-size="6.6" fill="#333" text-anchor="end">1.5</text>
<line x1="410.10" y1="608.20" x2="413.30" y2="608.20" stroke="#1a1a1a" stroke-width="0.9" />
<text x="407.30" y="610.55" font-size="6.6" fill="#333" text-anchor="end">1.0</text>
<line x1="410.10" y1="617.70" x2="413.30" y2="617.70" stroke="#1a1a1a" stroke-width="0.9" />
<text x="407.30" y="620.05" font-size="6.6" fill="#333" text-anchor="end">0.5</text>
<line x1="410.10" y1="627.40" x2="413.30" y2="627.40" stroke="#1a1a1a" stroke-width="0.9" />
<text x="407.30" y="629.75" font-size="6.6" fill="#333" text-anchor="end">0.0</text>
<line x1="411.10" y1="587.80" x2="415.60" y2="587.80" stroke="#3a3a3a" stroke-width="0.8" />
<line x1="411.10" y1="589.60" x2="415.60" y2="589.60" stroke="#3a3a3a" stroke-width="0.8" />
<line x1="433.80" y1="627.40" x2="433.80" y2="630.00" stroke="#1a1a1a" stroke-width="0.9" />
<line x1="464.60" y1="627.40" x2="464.60" y2="630.00" stroke="#1a1a1a" stroke-width="0.9" />
<rect x="424.30" y="610.50" width="19.20" height="16.90" fill="#3d5a8c" />
<rect x="455.20" y="551.50" width="19.70" height="75.90" fill="#62b0e6" />
<rect x="455.20" y="587.60" width="19.70" height="2.20" fill="#fff" />
<line x1="413.30" y1="608.20" x2="484.50" y2="608.20" stroke="#5a5e64" stroke-width="0.7" stroke-dasharray="1,0.7"/>
<line x1="433.90" y1="604.30" x2="433.90" y2="610.50" stroke="#c9d3e6" stroke-width="0.7" />
<line x1="429.20" y1="604.30" x2="439.40" y2="604.30" stroke="#9aa8c8" stroke-width="0.7" />
<line x1="465.05" y1="541.50" x2="465.05" y2="551.50" stroke="#a9d3f0" stroke-width="0.7" />
<line x1="459.95" y1="541.50" x2="470.15" y2="541.50" stroke="#a9d3f0" stroke-width="0.7" />
<circle cx="433.80" cy="602.70" r="1.15" fill="#111" />
<circle cx="433.80" cy="606.10" r="1.15" fill="#111" />
<circle cx="433.80" cy="620.40" r="1.15" fill="#111" />
<circle cx="464.90" cy="531.50" r="1.15" fill="#111" />
<circle cx="464.90" cy="545.80" r="1.15" fill="#111" />
<circle cx="464.90" cy="550.00" r="1.15" fill="#111" />
<circle cx="464.90" cy="575.70" r="1.15" fill="#111" />
<line x1="436.20" y1="523.80" x2="463.50" y2="523.80" stroke="#444" stroke-width="0.7" />
<text x="450.00" y="523.30" font-size="6.2" font-weight="bold" fill="#222" text-anchor="middle">*</text>
<text x="433.80" y="639.60" font-size="6.4" fill="#222" text-anchor="middle" >EV</text>
<text x="464.60" y="639.60" font-size="6.4" fill="#222" text-anchor="middle" >YF</text>
<text x="445.40" y="503.40" font-size="8.6" fill="#222">2<tspan font-size="4.99" dy="-4.30" dx="0.5">0</tspan></text>
<text transform="translate(383.74,563.00) rotate(-90)" font-size="7.6" fill="#222" text-anchor="middle" font-weight="bold" textLength="66.9" lengthAdjust="spacingAndGlyphs">Ratio of ESLAM chimerism</text>
<text transform="translate(393.34,563.00) rotate(-90)" font-size="7.6" fill="#222" text-anchor="middle" font-weight="bold" textLength="57.4" lengthAdjust="spacingAndGlyphs">to total BM chimerism</text>
<rect x="0.5" y="0.5" width="519" height="658" fill="none" stroke="#5a5a5a" stroke-width="1"/>
</svg>
</body></html>
